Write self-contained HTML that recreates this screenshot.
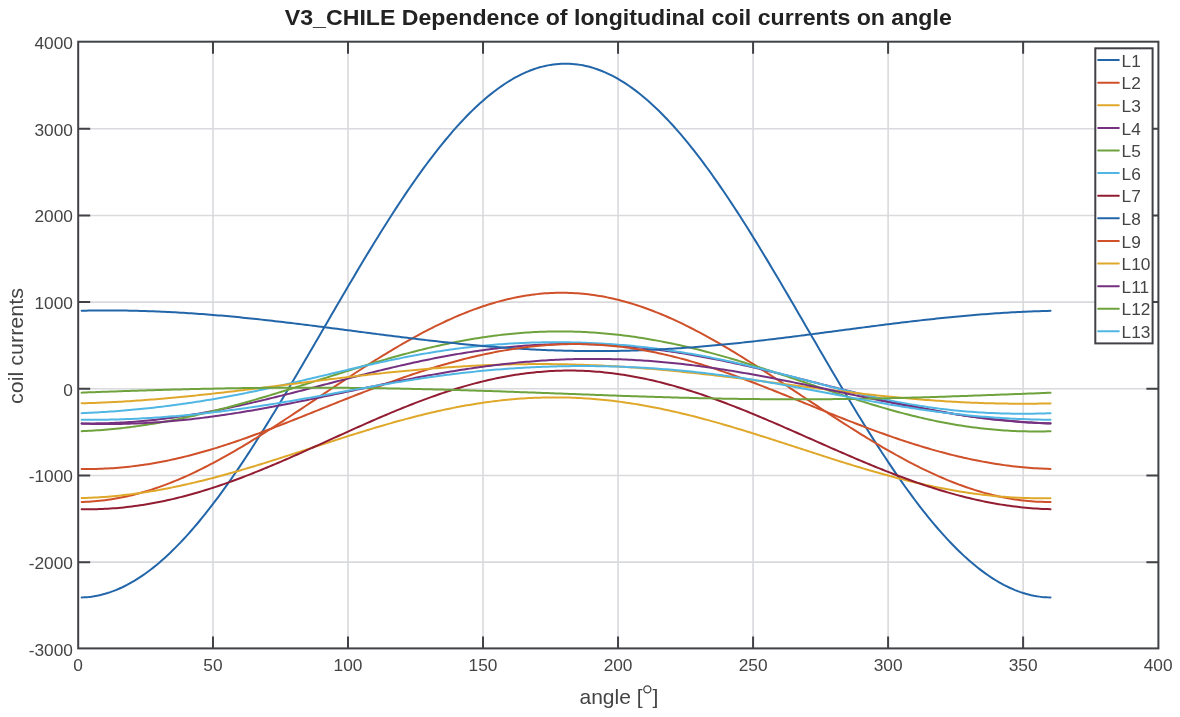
<!DOCTYPE html><html><head><meta charset="utf-8"><title>V3_CHILE</title><style>html,body{margin:0;padding:0;background:#fff;}svg{display:block;will-change:transform;}</style></head><body><svg width="1180" height="717" viewBox="0 0 1180 717">
<rect width="1180" height="717" fill="#ffffff"/>
<path d="M212.98 41.70V648.40M348.00 41.70V648.40M483.02 41.70V648.40M618.05 41.70V648.40M753.08 41.70V648.40M888.10 41.70V648.40M1023.12 41.70V648.40M78.20 562.13H1158.40M78.20 475.46H1158.40M78.20 388.79H1158.40M78.20 302.11H1158.40M78.20 215.44H1158.40M78.20 128.77H1158.40" stroke="#d9dadd" stroke-width="1.6" fill="none"/>
<polyline points="81.65,597.43 83.35,597.37 86.05,597.21 88.75,596.97 91.45,596.64 94.15,596.24 96.85,595.76 99.55,595.19 102.25,594.54 104.95,593.82 107.66,593.01 110.36,592.12 113.06,591.15 115.76,590.11 118.46,588.98 121.16,587.78 123.86,586.50 126.56,585.14 129.26,583.70 131.96,582.18 134.66,580.59 137.36,578.92 140.06,577.18 142.76,575.36 145.46,573.47 148.16,571.50 150.86,569.46 153.56,567.35 156.26,565.16 158.97,562.91 161.67,560.58 164.37,558.18 167.07,555.71 169.77,553.18 172.47,550.57 175.17,547.90 177.87,545.17 180.57,542.36 183.27,539.50 185.97,536.57 188.67,533.57 191.37,530.52 194.07,527.40 196.77,524.23 199.47,520.99 202.17,517.70 204.87,514.35 207.57,510.95 210.27,507.49 212.98,503.97 215.68,500.40 218.38,496.78 221.08,493.11 223.78,489.40 226.48,485.63 229.18,481.81 231.88,477.95 234.58,474.05 237.28,470.10 239.98,466.10 242.68,462.07 245.38,458.00 248.08,453.89 250.78,449.74 253.48,445.55 256.18,441.33 258.88,437.07 261.58,432.79 264.28,428.47 266.99,424.12 269.69,419.74 272.39,415.34 275.09,410.91 277.79,406.45 280.49,401.98 283.19,397.48 285.89,392.96 288.59,388.42 291.29,383.86 293.99,379.29 296.69,374.70 299.39,370.10 302.09,365.49 304.79,360.87 307.49,356.23 310.19,351.59 312.89,346.95 315.59,342.30 318.29,337.64 321.00,332.98 323.70,328.32 326.40,323.67 329.10,319.01 331.80,314.36 334.50,309.71 337.20,305.07 339.90,300.44 342.60,295.81 345.30,291.20 348.00,286.60 350.70,282.01 353.40,277.44 356.10,272.88 358.80,268.34 361.50,263.82 364.20,259.32 366.90,254.84 369.60,250.39 372.30,245.96 375.00,241.55 377.71,237.17 380.41,232.83 383.11,228.51 385.81,224.22 388.51,219.96 391.21,215.74 393.91,211.55 396.61,207.40 399.31,203.29 402.01,199.21 404.71,195.18 407.41,191.18 410.11,187.23 412.81,183.32 415.51,179.46 418.21,175.64 420.91,171.87 423.61,168.15 426.31,164.48 429.01,160.86 431.72,157.29 434.42,153.77 437.12,150.31 439.82,146.90 442.52,143.55 445.22,140.25 447.92,137.02 450.62,133.84 453.32,130.72 456.02,127.66 458.72,124.67 461.42,121.73 464.12,118.86 466.82,116.06 469.52,113.32 472.22,110.65 474.92,108.04 477.62,105.50 480.32,103.03 483.02,100.63 485.73,98.30 488.43,96.04 491.13,93.85 493.83,91.74 496.53,89.69 499.23,87.72 501.93,85.83 504.63,84.00 507.33,82.26 510.03,80.59 512.73,78.99 515.43,77.47 518.13,76.03 520.83,74.67 523.53,73.38 526.23,72.18 528.93,71.05 531.63,70.00 534.33,69.03 537.03,68.14 539.74,67.33 542.44,66.60 545.14,65.95 547.84,65.38 550.54,64.89 553.24,64.48 555.94,64.15 558.64,63.91 561.34,63.74 564.04,63.66 566.74,63.66 569.44,63.74 572.14,63.90 574.84,64.14 577.54,64.46 580.24,64.87 582.94,65.35 585.64,65.92 588.34,66.57 591.05,67.29 593.75,68.10 596.45,68.99 599.15,69.96 601.85,71.00 604.55,72.13 607.25,73.33 609.95,74.61 612.65,75.97 615.35,77.41 618.05,78.93 620.75,80.52 623.45,82.19 626.15,83.93 628.85,85.75 631.55,87.64 634.25,89.61 636.95,91.65 639.65,93.76 642.35,95.95 645.06,98.20 647.76,100.53 650.46,102.93 653.16,105.40 655.86,107.93 658.56,110.54 661.26,113.21 663.96,115.94 666.66,118.74 669.36,121.61 672.06,124.54 674.76,127.53 677.46,130.59 680.16,133.71 682.86,136.88 685.56,140.12 688.26,143.41 690.96,146.76 693.66,150.16 696.36,153.62 699.07,157.14 701.77,160.71 704.47,164.33 707.17,168.00 709.87,171.71 712.57,175.48 715.27,179.30 717.97,183.16 720.67,187.06 723.37,191.01 726.07,195.01 728.77,199.04 731.47,203.11 734.17,207.22 736.87,211.37 739.57,215.56 742.27,219.78 744.97,224.04 747.67,228.32 750.37,232.64 753.08,236.99 755.78,241.37 758.48,245.77 761.18,250.20 763.88,254.66 766.58,259.13 769.28,263.63 771.98,268.15 774.68,272.69 777.38,277.25 780.08,281.82 782.78,286.41 785.48,291.01 788.18,295.62 790.88,300.24 793.58,304.87 796.28,309.52 798.98,314.16 801.68,318.81 804.38,323.47 807.09,328.13 809.79,332.79 812.49,337.44 815.19,342.10 817.89,346.75 820.59,351.40 823.29,356.04 825.99,360.67 828.69,365.30 831.39,369.91 834.09,374.51 836.79,379.10 839.49,383.67 842.19,388.23 844.89,392.77 847.59,397.29 850.29,401.79 852.99,406.27 855.69,410.72 858.39,415.15 861.10,419.56 863.80,423.93 866.50,428.28 869.20,432.60 871.90,436.89 874.60,441.15 877.30,445.37 880.00,449.56 882.70,453.71 885.40,457.82 888.10,461.90 890.80,465.93 893.50,469.93 896.20,473.88 898.90,477.79 901.60,481.65 904.30,485.47 907.00,489.24 909.70,492.96 912.40,496.63 915.11,500.25 917.81,503.82 920.51,507.34 923.21,510.80 925.91,514.21 928.61,517.56 931.31,520.86 934.01,524.09 936.71,527.27 939.41,530.39 942.11,533.45 944.81,536.44 947.51,539.38 950.21,542.24 952.91,545.05 955.61,547.79 958.31,550.46 961.01,553.07 963.71,555.61 966.41,558.08 969.12,560.48 971.82,562.81 974.52,565.07 977.22,567.26 979.92,569.37 982.62,571.42 985.32,573.39 988.02,575.28 990.72,577.11 993.42,578.85 996.12,580.52 998.82,582.12 1001.52,583.64 1004.22,585.08 1006.92,586.44 1009.62,587.73 1012.32,588.93 1015.02,590.06 1017.72,591.11 1020.42,592.08 1023.12,592.97 1025.83,593.78 1028.53,594.51 1031.23,595.16 1033.93,595.73 1036.63,596.22 1039.33,596.63 1042.03,596.96 1044.73,597.20 1047.43,597.37 1050.54,597.45" fill="none" stroke="#2266A9" stroke-width="2.0" stroke-linejoin="round" stroke-linecap="round"/>
<polyline points="81.65,501.92 83.35,501.88 86.05,501.78 88.75,501.65 91.45,501.49 94.15,501.29 96.85,501.07 99.55,500.81 102.25,500.51 104.95,500.19 107.66,499.83 110.36,499.44 113.06,499.02 115.76,498.57 118.46,498.08 121.16,497.57 123.86,497.02 126.56,496.44 129.26,495.83 131.96,495.18 134.66,494.51 137.36,493.81 140.06,493.08 142.76,492.31 145.46,491.52 148.16,490.70 150.86,489.85 153.56,488.97 156.26,488.06 158.97,487.12 161.67,486.16 164.37,485.17 167.07,484.15 169.77,483.10 172.47,482.03 175.17,480.93 177.87,479.81 180.57,478.66 183.27,477.49 185.97,476.29 188.67,475.07 191.37,473.82 194.07,472.55 196.77,471.26 199.47,469.95 202.17,468.61 204.87,467.25 207.57,465.88 210.27,464.48 212.98,463.06 215.68,461.62 218.38,460.17 221.08,458.69 223.78,457.20 226.48,455.69 229.18,454.16 231.88,452.61 234.58,451.05 237.28,449.48 239.98,447.89 242.68,446.28 245.38,444.66 248.08,443.03 250.78,441.38 253.48,439.72 256.18,438.05 258.88,436.37 261.58,434.67 264.28,432.97 266.99,431.26 269.69,429.53 272.39,427.80 275.09,426.06 277.79,424.31 280.49,422.56 283.19,420.79 285.89,419.03 288.59,417.25 291.29,415.47 293.99,413.69 296.69,411.90 299.39,410.10 302.09,408.31 304.79,406.51 307.49,404.71 310.19,402.91 312.89,401.10 315.59,399.30 318.29,397.49 321.00,395.69 323.70,393.89 326.40,392.08 329.10,390.28 331.80,388.49 334.50,386.69 337.20,384.90 339.90,383.11 342.60,381.33 345.30,379.55 348.00,377.78 350.70,376.01 353.40,374.25 356.10,372.49 358.80,370.75 361.50,369.01 364.20,367.28 366.90,365.55 369.60,363.84 372.30,362.14 375.00,360.44 377.71,358.76 380.41,357.09 383.11,355.43 385.81,353.78 388.51,352.15 391.21,350.53 393.91,348.92 396.61,347.32 399.31,345.74 402.01,344.18 404.71,342.63 407.41,341.09 410.11,339.57 412.81,338.07 415.51,336.59 418.21,335.12 420.91,333.67 423.61,332.24 426.31,330.83 429.01,329.44 431.72,328.07 434.42,326.72 437.12,325.39 439.82,324.08 442.52,322.79 445.22,321.52 447.92,320.28 450.62,319.06 453.32,317.86 456.02,316.69 458.72,315.54 461.42,314.41 464.12,313.31 466.82,312.23 469.52,311.18 472.22,310.16 474.92,309.16 477.62,308.19 480.32,307.24 483.02,306.32 485.73,305.43 488.43,304.57 491.13,303.74 493.83,302.93 496.53,302.15 499.23,301.40 501.93,300.69 504.63,300.00 507.33,299.34 510.03,298.71 512.73,298.11 515.43,297.54 518.13,297.01 520.83,296.50 523.53,296.02 526.23,295.58 528.93,295.17 531.63,294.79 534.33,294.44 537.03,294.13 539.74,293.84 542.44,293.59 545.14,293.37 547.84,293.19 550.54,293.03 553.24,292.91 555.94,292.83 558.64,292.77 561.34,292.75 564.04,292.76 566.74,292.80 569.44,292.88 572.14,292.99 574.84,293.13 577.54,293.31 580.24,293.52 582.94,293.76 585.64,294.03 588.34,294.34 591.05,294.68 593.75,295.05 596.45,295.45 599.15,295.89 601.85,296.35 604.55,296.85 607.25,297.38 609.95,297.95 612.65,298.54 615.35,299.16 618.05,299.82 620.75,300.50 623.45,301.22 626.15,301.96 628.85,302.74 631.55,303.54 634.25,304.38 636.95,305.24 639.65,306.13 642.35,307.05 645.06,308.00 647.76,308.97 650.46,309.97 653.16,311.00 655.86,312.06 658.56,313.14 661.26,314.24 663.96,315.38 666.66,316.53 669.36,317.71 672.06,318.92 674.76,320.15 677.46,321.40 680.16,322.67 682.86,323.97 685.56,325.29 688.26,326.63 690.96,327.99 693.66,329.37 696.36,330.77 699.07,332.19 701.77,333.63 704.47,335.09 707.17,336.57 709.87,338.06 712.57,339.57 715.27,341.10 717.97,342.64 720.67,344.20 723.37,345.78 726.07,347.37 728.77,348.97 731.47,350.59 734.17,352.21 736.87,353.86 739.57,355.51 742.27,357.18 744.97,358.85 747.67,360.54 750.37,362.24 753.08,363.95 755.78,365.66 758.48,367.39 761.18,369.12 763.88,370.86 766.58,372.60 769.28,374.36 771.98,376.12 774.68,377.88 777.38,379.65 780.08,381.43 782.78,383.20 785.48,384.99 788.18,386.77 790.88,388.56 793.58,390.35 796.28,392.14 798.98,393.93 801.68,395.72 804.38,397.51 807.09,399.30 809.79,401.09 812.49,402.88 815.19,404.67 817.89,406.45 820.59,408.23 823.29,410.01 825.99,411.78 828.69,413.55 831.39,415.32 834.09,417.08 836.79,418.83 839.49,420.58 842.19,422.32 844.89,424.05 847.59,425.78 850.29,427.50 852.99,429.21 855.69,430.91 858.39,432.60 861.10,434.28 863.80,435.95 866.50,437.60 869.20,439.25 871.90,440.89 874.60,442.51 877.30,444.12 880.00,445.72 882.70,447.30 885.40,448.87 888.10,450.43 890.80,451.97 893.50,453.49 896.20,455.00 898.90,456.49 901.60,457.96 904.30,459.42 907.00,460.86 909.70,462.29 912.40,463.69 915.11,465.07 917.81,466.44 920.51,467.78 923.21,469.11 925.91,470.41 928.61,471.70 931.31,472.96 934.01,474.20 936.71,475.42 939.41,476.61 942.11,477.78 944.81,478.93 947.51,480.06 950.21,481.16 952.91,482.23 955.61,483.28 958.31,484.31 961.01,485.31 963.71,486.28 966.41,487.23 969.12,488.15 971.82,489.04 974.52,489.91 977.22,490.75 979.92,491.56 982.62,492.34 985.32,493.09 988.02,493.82 990.72,494.51 993.42,495.18 996.12,495.81 998.82,496.42 1001.52,496.99 1004.22,497.54 1006.92,498.05 1009.62,498.54 1012.32,498.99 1015.02,499.41 1017.72,499.80 1020.42,500.16 1023.12,500.48 1025.83,500.78 1028.53,501.04 1031.23,501.27 1033.93,501.47 1036.63,501.63 1039.33,501.77 1042.03,501.87 1044.73,501.93 1047.43,501.97 1050.54,501.97" fill="none" stroke="#CF5029" stroke-width="2.0" stroke-linejoin="round" stroke-linecap="round"/>
<polyline points="81.65,498.09 83.35,498.04 86.05,497.95 88.75,497.85 91.45,497.73 94.15,497.59 96.85,497.44 99.55,497.27 102.25,497.09 104.95,496.90 107.66,496.69 110.36,496.46 113.06,496.22 115.76,495.96 118.46,495.69 121.16,495.41 123.86,495.11 126.56,494.80 129.26,494.47 131.96,494.13 134.66,493.77 137.36,493.40 140.06,493.02 142.76,492.62 145.46,492.21 148.16,491.78 150.86,491.34 153.56,490.89 156.26,490.43 158.97,489.95 161.67,489.46 164.37,488.96 167.07,488.44 169.77,487.91 172.47,487.37 175.17,486.82 177.87,486.26 180.57,485.68 183.27,485.09 185.97,484.49 188.67,483.88 191.37,483.26 194.07,482.63 196.77,481.99 199.47,481.34 202.17,480.67 204.87,480.00 207.57,479.32 210.27,478.63 212.98,477.92 215.68,477.21 218.38,476.49 221.08,475.76 223.78,475.03 226.48,474.28 229.18,473.53 231.88,472.77 234.58,472.00 237.28,471.22 239.98,470.44 242.68,469.65 245.38,468.85 248.08,468.05 250.78,467.24 253.48,466.42 256.18,465.60 258.88,464.78 261.58,463.94 264.28,463.11 266.99,462.27 269.69,461.42 272.39,460.57 275.09,459.72 277.79,458.86 280.49,458.00 283.19,457.14 285.89,456.27 288.59,455.40 291.29,454.53 293.99,453.65 296.69,452.78 299.39,451.90 302.09,451.02 304.79,450.15 307.49,449.27 310.19,448.39 312.89,447.51 315.59,446.63 318.29,445.75 321.00,444.87 323.70,443.99 326.40,443.11 329.10,442.24 331.80,441.36 334.50,440.49 337.20,439.62 339.90,438.75 342.60,437.89 345.30,437.03 348.00,436.17 350.70,435.31 353.40,434.46 356.10,433.62 358.80,432.77 361.50,431.94 364.20,431.10 366.90,430.28 369.60,429.45 372.30,428.64 375.00,427.82 377.71,427.02 380.41,426.22 383.11,425.43 385.81,424.64 388.51,423.87 391.21,423.09 393.91,422.33 396.61,421.58 399.31,420.83 402.01,420.09 404.71,419.36 407.41,418.64 410.11,417.92 412.81,417.22 415.51,416.52 418.21,415.84 420.91,415.16 423.61,414.50 426.31,413.84 429.01,413.20 431.72,412.56 434.42,411.94 437.12,411.32 439.82,410.72 442.52,410.13 445.22,409.55 447.92,408.99 450.62,408.43 453.32,407.89 456.02,407.35 458.72,406.84 461.42,406.33 464.12,405.83 466.82,405.35 469.52,404.89 472.22,404.43 474.92,403.99 477.62,403.56 480.32,403.14 483.02,402.74 485.73,402.36 488.43,401.98 491.13,401.62 493.83,401.28 496.53,400.94 499.23,400.63 501.93,400.32 504.63,400.04 507.33,399.76 510.03,399.50 512.73,399.26 515.43,399.03 518.13,398.81 520.83,398.61 523.53,398.43 526.23,398.26 528.93,398.10 531.63,397.96 534.33,397.84 537.03,397.73 539.74,397.63 542.44,397.56 545.14,397.49 547.84,397.44 550.54,397.41 553.24,397.39 555.94,397.39 558.64,397.41 561.34,397.43 564.04,397.48 566.74,397.54 569.44,397.61 572.14,397.70 574.84,397.81 577.54,397.93 580.24,398.06 582.94,398.21 585.64,398.38 588.34,398.56 591.05,398.76 593.75,398.97 596.45,399.19 599.15,399.43 601.85,399.69 604.55,399.96 607.25,400.24 609.95,400.54 612.65,400.86 615.35,401.19 618.05,401.53 620.75,401.88 623.45,402.25 626.15,402.64 628.85,403.04 631.55,403.45 634.25,403.87 636.95,404.31 639.65,404.76 642.35,405.23 645.06,405.70 647.76,406.19 650.46,406.70 653.16,407.21 655.86,407.74 658.56,408.28 661.26,408.83 663.96,409.40 666.66,409.97 669.36,410.56 672.06,411.16 674.76,411.77 677.46,412.39 680.16,413.02 682.86,413.67 685.56,414.32 688.26,414.98 690.96,415.65 693.66,416.34 696.36,417.03 699.07,417.73 701.77,418.44 704.47,419.16 707.17,419.89 709.87,420.63 712.57,421.37 715.27,422.13 717.97,422.89 720.67,423.66 723.37,424.43 726.07,425.22 728.77,426.01 731.47,426.80 734.17,427.61 736.87,428.42 739.57,429.23 742.27,430.05 744.97,430.88 747.67,431.71 750.37,432.55 753.08,433.39 755.78,434.23 758.48,435.08 761.18,435.94 763.88,436.80 766.58,437.66 769.28,438.52 771.98,439.39 774.68,440.26 777.38,441.13 780.08,442.00 782.78,442.88 785.48,443.75 788.18,444.63 790.88,445.51 793.58,446.39 796.28,447.27 798.98,448.15 801.68,449.03 804.38,449.91 807.09,450.79 809.79,451.67 812.49,452.54 815.19,453.42 817.89,454.29 820.59,455.16 823.29,456.03 825.99,456.90 828.69,457.77 831.39,458.63 834.09,459.49 836.79,460.34 839.49,461.19 842.19,462.04 844.89,462.88 847.59,463.72 850.29,464.55 852.99,465.38 855.69,466.20 858.39,467.02 861.10,467.83 863.80,468.63 866.50,469.43 869.20,470.23 871.90,471.01 874.60,471.79 877.30,472.56 880.00,473.32 882.70,474.08 885.40,474.83 888.10,475.57 890.80,476.30 893.50,477.02 896.20,477.73 898.90,478.44 901.60,479.13 904.30,479.82 907.00,480.49 909.70,481.16 912.40,481.81 915.11,482.46 917.81,483.09 920.51,483.72 923.21,484.33 925.91,484.93 928.61,485.52 931.31,486.10 934.01,486.67 936.71,487.23 939.41,487.77 942.11,488.30 944.81,488.82 947.51,489.33 950.21,489.82 952.91,490.30 955.61,490.77 958.31,491.22 961.01,491.67 963.71,492.09 966.41,492.51 969.12,492.91 971.82,493.30 974.52,493.67 977.22,494.03 979.92,494.38 982.62,494.71 985.32,495.03 988.02,495.33 990.72,495.62 993.42,495.89 996.12,496.15 998.82,496.40 1001.52,496.63 1004.22,496.84 1006.92,497.04 1009.62,497.23 1012.32,497.40 1015.02,497.55 1017.72,497.69 1020.42,497.82 1023.12,497.93 1025.83,498.02 1028.53,498.10 1031.23,498.16 1033.93,498.21 1036.63,498.24 1039.33,498.26 1042.03,498.26 1044.73,498.25 1047.43,498.22 1050.54,498.17" fill="none" stroke="#E0A82A" stroke-width="2.0" stroke-linejoin="round" stroke-linecap="round"/>
<polyline points="81.65,423.36 83.35,423.38 86.05,423.41 88.75,423.42 91.45,423.42 94.15,423.40 96.85,423.37 99.55,423.33 102.25,423.28 104.95,423.22 107.66,423.14 110.36,423.05 113.06,422.95 115.76,422.83 118.46,422.71 121.16,422.57 123.86,422.42 126.56,422.25 129.26,422.07 131.96,421.89 134.66,421.69 137.36,421.47 140.06,421.25 142.76,421.01 145.46,420.76 148.16,420.50 150.86,420.23 153.56,419.95 156.26,419.65 158.97,419.34 161.67,419.03 164.37,418.70 167.07,418.36 169.77,418.00 172.47,417.64 175.17,417.27 177.87,416.88 180.57,416.49 183.27,416.08 185.97,415.67 188.67,415.24 191.37,414.81 194.07,414.36 196.77,413.91 199.47,413.44 202.17,412.97 204.87,412.48 207.57,411.99 210.27,411.49 212.98,410.98 215.68,410.46 218.38,409.93 221.08,409.40 223.78,408.85 226.48,408.30 229.18,407.74 231.88,407.18 234.58,406.60 237.28,406.02 239.98,405.43 242.68,404.83 245.38,404.23 248.08,403.62 250.78,403.01 253.48,402.39 256.18,401.76 258.88,401.13 261.58,400.49 264.28,399.85 266.99,399.20 269.69,398.55 272.39,397.89 275.09,397.23 277.79,396.56 280.49,395.89 283.19,395.22 285.89,394.54 288.59,393.86 291.29,393.18 293.99,392.49 296.69,391.80 299.39,391.11 302.09,390.42 304.79,389.72 307.49,389.02 310.19,388.33 312.89,387.63 315.59,386.93 318.29,386.22 321.00,385.52 323.70,384.82 326.40,384.12 329.10,383.41 331.80,382.71 334.50,382.01 337.20,381.31 339.90,380.61 342.60,379.91 345.30,379.21 348.00,378.51 350.70,377.82 353.40,377.13 356.10,376.44 358.80,375.75 361.50,375.07 364.20,374.38 366.90,373.71 369.60,373.03 372.30,372.36 375.00,371.69 377.71,371.03 380.41,370.37 383.11,369.71 385.81,369.06 388.51,368.41 391.21,367.77 393.91,367.14 396.61,366.51 399.31,365.88 402.01,365.26 404.71,364.65 407.41,364.04 410.11,363.44 412.81,362.84 415.51,362.25 418.21,361.67 420.91,361.10 423.61,360.53 426.31,359.97 429.01,359.42 431.72,358.87 434.42,358.33 437.12,357.80 439.82,357.28 442.52,356.77 445.22,356.26 447.92,355.77 450.62,355.28 453.32,354.80 456.02,354.33 458.72,353.87 461.42,353.42 464.12,352.98 466.82,352.54 469.52,352.12 472.22,351.71 474.92,351.30 477.62,350.91 480.32,350.52 483.02,350.15 485.73,349.78 488.43,349.43 491.13,349.09 493.83,348.76 496.53,348.43 499.23,348.12 501.93,347.82 504.63,347.53 507.33,347.25 510.03,346.98 512.73,346.73 515.43,346.48 518.13,346.25 520.83,346.02 523.53,345.81 526.23,345.61 528.93,345.42 531.63,345.24 534.33,345.07 537.03,344.92 539.74,344.77 542.44,344.64 545.14,344.52 547.84,344.41 550.54,344.31 553.24,344.23 555.94,344.15 558.64,344.09 561.34,344.04 564.04,344.00 566.74,343.97 569.44,343.96 572.14,343.95 574.84,343.96 577.54,343.98 580.24,344.01 582.94,344.05 585.64,344.11 588.34,344.17 591.05,344.25 593.75,344.34 596.45,344.44 599.15,344.55 601.85,344.68 604.55,344.81 607.25,344.96 609.95,345.11 612.65,345.28 615.35,345.46 618.05,345.65 620.75,345.85 623.45,346.07 626.15,346.29 628.85,346.53 631.55,346.77 634.25,347.03 636.95,347.30 639.65,347.57 642.35,347.86 645.06,348.16 647.76,348.47 650.46,348.79 653.16,349.12 655.86,349.46 658.56,349.80 661.26,350.16 663.96,350.53 666.66,350.91 669.36,351.30 672.06,351.70 674.76,352.10 677.46,352.52 680.16,352.94 682.86,353.38 685.56,353.82 688.26,354.27 690.96,354.73 693.66,355.20 696.36,355.68 699.07,356.16 701.77,356.66 704.47,357.16 707.17,357.67 709.87,358.18 712.57,358.71 715.27,359.24 717.97,359.78 720.67,360.32 723.37,360.87 726.07,361.43 728.77,362.00 731.47,362.57 734.17,363.15 736.87,363.74 739.57,364.33 742.27,364.92 744.97,365.52 747.67,366.13 750.37,366.74 753.08,367.36 755.78,367.98 758.48,368.61 761.18,369.24 763.88,369.88 766.58,370.52 769.28,371.16 771.98,371.81 774.68,372.46 777.38,373.12 780.08,373.78 782.78,374.44 785.48,375.10 788.18,375.77 790.88,376.44 793.58,377.11 796.28,377.79 798.98,378.46 801.68,379.14 804.38,379.82 807.09,380.50 809.79,381.19 812.49,381.87 815.19,382.55 817.89,383.24 820.59,383.92 823.29,384.61 825.99,385.29 828.69,385.98 831.39,386.66 834.09,387.34 836.79,388.03 839.49,388.71 842.19,389.39 844.89,390.07 847.59,390.74 850.29,391.42 852.99,392.09 855.69,392.76 858.39,393.43 861.10,394.10 863.80,394.76 866.50,395.42 869.20,396.08 871.90,396.73 874.60,397.38 877.30,398.02 880.00,398.67 882.70,399.30 885.40,399.94 888.10,400.56 890.80,401.19 893.50,401.81 896.20,402.42 898.90,403.03 901.60,403.63 904.30,404.22 907.00,404.81 909.70,405.40 912.40,405.97 915.11,406.54 917.81,407.11 920.51,407.67 923.21,408.22 925.91,408.76 928.61,409.29 931.31,409.82 934.01,410.34 936.71,410.85 939.41,411.36 942.11,411.85 944.81,412.34 947.51,412.82 950.21,413.29 952.91,413.75 955.61,414.20 958.31,414.64 961.01,415.07 963.71,415.50 966.41,415.91 969.12,416.31 971.82,416.71 974.52,417.09 977.22,417.47 979.92,417.83 982.62,418.18 985.32,418.52 988.02,418.86 990.72,419.18 993.42,419.49 996.12,419.78 998.82,420.07 1001.52,420.35 1004.22,420.61 1006.92,420.87 1009.62,421.11 1012.32,421.34 1015.02,421.56 1017.72,421.76 1020.42,421.96 1023.12,422.14 1025.83,422.31 1028.53,422.47 1031.23,422.62 1033.93,422.75 1036.63,422.87 1039.33,422.98 1042.03,423.08 1044.73,423.17 1047.43,423.24 1050.54,423.31" fill="none" stroke="#75317F" stroke-width="2.0" stroke-linejoin="round" stroke-linecap="round"/>
<polyline points="81.65,431.14 83.35,431.07 86.05,430.96 88.75,430.83 91.45,430.68 94.15,430.52 96.85,430.35 99.55,430.16 102.25,429.96 104.95,429.75 107.66,429.52 110.36,429.28 113.06,429.02 115.76,428.75 118.46,428.47 121.16,428.18 123.86,427.87 126.56,427.55 129.26,427.21 131.96,426.87 134.66,426.51 137.36,426.13 140.06,425.75 142.76,425.35 145.46,424.94 148.16,424.52 150.86,424.09 153.56,423.64 156.26,423.19 158.97,422.72 161.67,422.24 164.37,421.75 167.07,421.25 169.77,420.74 172.47,420.21 175.17,419.68 177.87,419.13 180.57,418.58 183.27,418.01 185.97,417.43 188.67,416.85 191.37,416.25 194.07,415.65 196.77,415.03 199.47,414.40 202.17,413.77 204.87,413.13 207.57,412.47 210.27,411.81 212.98,411.14 215.68,410.46 218.38,409.78 221.08,409.08 223.78,408.38 226.48,407.67 229.18,406.95 231.88,406.22 234.58,405.49 237.28,404.75 239.98,404.00 242.68,403.24 245.38,402.48 248.08,401.71 250.78,400.94 253.48,400.16 256.18,399.37 258.88,398.58 261.58,397.78 264.28,396.98 266.99,396.17 269.69,395.36 272.39,394.54 275.09,393.72 277.79,392.90 280.49,392.07 283.19,391.23 285.89,390.40 288.59,389.56 291.29,388.72 293.99,387.87 296.69,387.02 299.39,386.17 302.09,385.32 304.79,384.47 307.49,383.61 310.19,382.76 312.89,381.90 315.59,381.04 318.29,380.18 321.00,379.32 323.70,378.46 326.40,377.61 329.10,376.75 331.80,375.89 334.50,375.04 337.20,374.18 339.90,373.33 342.60,372.48 345.30,371.63 348.00,370.78 350.70,369.94 353.40,369.10 356.10,368.26 358.80,367.43 361.50,366.60 364.20,365.78 366.90,364.96 369.60,364.14 372.30,363.33 375.00,362.52 377.71,361.72 380.41,360.93 383.11,360.14 385.81,359.36 388.51,358.58 391.21,357.81 393.91,357.05 396.61,356.30 399.31,355.55 402.01,354.81 404.71,354.08 407.41,353.36 410.11,352.64 412.81,351.94 415.51,351.24 418.21,350.55 420.91,349.87 423.61,349.21 426.31,348.55 429.01,347.90 431.72,347.26 434.42,346.63 437.12,346.01 439.82,345.41 442.52,344.81 445.22,344.23 447.92,343.65 450.62,343.09 453.32,342.54 456.02,342.00 458.72,341.48 461.42,340.96 464.12,340.46 466.82,339.97 469.52,339.50 472.22,339.03 474.92,338.58 477.62,338.14 480.32,337.72 483.02,337.31 485.73,336.91 488.43,336.52 491.13,336.15 493.83,335.79 496.53,335.45 499.23,335.12 501.93,334.80 504.63,334.50 507.33,334.21 510.03,333.94 512.73,333.68 515.43,333.43 518.13,333.20 520.83,332.98 523.53,332.78 526.23,332.59 528.93,332.41 531.63,332.25 534.33,332.10 537.03,331.97 539.74,331.86 542.44,331.75 545.14,331.67 547.84,331.59 550.54,331.53 553.24,331.49 555.94,331.46 558.64,331.44 561.34,331.44 564.04,331.46 566.74,331.48 569.44,331.53 572.14,331.59 574.84,331.66 577.54,331.74 580.24,331.84 582.94,331.96 585.64,332.09 588.34,332.23 591.05,332.39 593.75,332.57 596.45,332.75 599.15,332.95 601.85,333.17 604.55,333.40 607.25,333.64 609.95,333.90 612.65,334.17 615.35,334.46 618.05,334.76 620.75,335.07 623.45,335.40 626.15,335.74 628.85,336.10 631.55,336.47 634.25,336.85 636.95,337.24 639.65,337.65 642.35,338.07 645.06,338.51 647.76,338.96 650.46,339.42 653.16,339.89 655.86,340.38 658.56,340.88 661.26,341.39 663.96,341.92 666.66,342.45 669.36,343.00 672.06,343.56 674.76,344.14 677.46,344.72 680.16,345.32 682.86,345.93 685.56,346.55 688.26,347.18 690.96,347.83 693.66,348.48 696.36,349.14 699.07,349.82 701.77,350.51 704.47,351.20 707.17,351.91 709.87,352.63 712.57,353.35 715.27,354.09 717.97,354.84 720.67,355.59 723.37,356.36 726.07,357.13 728.77,357.91 731.47,358.70 734.17,359.50 736.87,360.30 739.57,361.12 742.27,361.94 744.97,362.77 747.67,363.60 750.37,364.45 753.08,365.30 755.78,366.15 758.48,367.01 761.18,367.88 763.88,368.75 766.58,369.63 769.28,370.51 771.98,371.39 774.68,372.29 777.38,373.18 780.08,374.08 782.78,374.98 785.48,375.88 788.18,376.79 790.88,377.70 793.58,378.61 796.28,379.52 798.98,380.44 801.68,381.35 804.38,382.27 807.09,383.19 809.79,384.10 812.49,385.02 815.19,385.94 817.89,386.85 820.59,387.76 823.29,388.67 825.99,389.58 828.69,390.49 831.39,391.40 834.09,392.30 836.79,393.20 839.49,394.09 842.19,394.98 844.89,395.87 847.59,396.75 850.29,397.63 852.99,398.50 855.69,399.36 858.39,400.22 861.10,401.08 863.80,401.92 866.50,402.76 869.20,403.59 871.90,404.42 874.60,405.23 877.30,406.04 880.00,406.84 882.70,407.63 885.40,408.41 888.10,409.19 890.80,409.95 893.50,410.70 896.20,411.44 898.90,412.17 901.60,412.89 904.30,413.60 907.00,414.30 909.70,414.99 912.40,415.67 915.11,416.33 917.81,416.98 920.51,417.62 923.21,418.24 925.91,418.86 928.61,419.46 931.31,420.04 934.01,420.62 936.71,421.18 939.41,421.72 942.11,422.26 944.81,422.78 947.51,423.28 950.21,423.77 952.91,424.25 955.61,424.71 958.31,425.15 961.01,425.59 963.71,426.00 966.41,426.40 969.12,426.79 971.82,427.16 974.52,427.52 977.22,427.86 979.92,428.19 982.62,428.50 985.32,428.79 988.02,429.07 990.72,429.34 993.42,429.59 996.12,429.82 998.82,430.04 1001.52,430.24 1004.22,430.43 1006.92,430.60 1009.62,430.75 1012.32,430.90 1015.02,431.02 1017.72,431.13 1020.42,431.22 1023.12,431.30 1025.83,431.37 1028.53,431.41 1031.23,431.45 1033.93,431.47 1036.63,431.47 1039.33,431.46 1042.03,431.43 1044.73,431.39 1047.43,431.33 1050.54,431.25" fill="none" stroke="#6EA23C" stroke-width="2.0" stroke-linejoin="round" stroke-linecap="round"/>
<polyline points="81.65,413.14 83.35,413.07 86.05,412.96 88.75,412.84 91.45,412.71 94.15,412.58 96.85,412.43 99.55,412.28 102.25,412.12 104.95,411.95 107.66,411.78 110.36,411.60 113.06,411.41 115.76,411.21 118.46,411.00 121.16,410.79 123.86,410.57 126.56,410.34 129.26,410.10 131.96,409.86 134.66,409.61 137.36,409.35 140.06,409.09 142.76,408.82 145.46,408.54 148.16,408.25 150.86,407.96 153.56,407.65 156.26,407.34 158.97,407.03 161.67,406.71 164.37,406.37 167.07,406.04 169.77,405.69 172.47,405.34 175.17,404.98 177.87,404.61 180.57,404.24 183.27,403.86 185.97,403.47 188.67,403.07 191.37,402.67 194.07,402.26 196.77,401.84 199.47,401.42 202.17,400.98 204.87,400.54 207.57,400.10 210.27,399.64 212.98,399.18 215.68,398.72 218.38,398.24 221.08,397.76 223.78,397.27 226.48,396.78 229.18,396.28 231.88,395.77 234.58,395.25 237.28,394.73 239.98,394.20 242.68,393.67 245.38,393.13 248.08,392.58 250.78,392.03 253.48,391.47 256.18,390.91 258.88,390.34 261.58,389.76 264.28,389.19 266.99,388.60 269.69,388.01 272.39,387.42 275.09,386.82 277.79,386.21 280.49,385.61 283.19,384.99 285.89,384.38 288.59,383.76 291.29,383.14 293.99,382.51 296.69,381.88 299.39,381.25 302.09,380.62 304.79,379.98 307.49,379.34 310.19,378.70 312.89,378.06 315.59,377.42 318.29,376.78 321.00,376.14 323.70,375.49 326.40,374.85 329.10,374.20 331.80,373.56 334.50,372.92 337.20,372.27 339.90,371.63 342.60,371.00 345.30,370.36 348.00,369.72 350.70,369.09 353.40,368.46 356.10,367.83 358.80,367.21 361.50,366.59 364.20,365.97 366.90,365.36 369.60,364.75 372.30,364.15 375.00,363.55 377.71,362.95 380.41,362.36 383.11,361.78 385.81,361.20 388.51,360.63 391.21,360.07 393.91,359.51 396.61,358.95 399.31,358.41 402.01,357.87 404.71,357.34 407.41,356.82 410.11,356.30 412.81,355.79 415.51,355.29 418.21,354.80 420.91,354.31 423.61,353.84 426.31,353.37 429.01,352.91 431.72,352.46 434.42,352.02 437.12,351.59 439.82,351.17 442.52,350.76 445.22,350.35 447.92,349.96 450.62,349.58 453.32,349.20 456.02,348.83 458.72,348.48 461.42,348.13 464.12,347.80 466.82,347.47 469.52,347.16 472.22,346.85 474.92,346.55 477.62,346.27 480.32,345.99 483.02,345.72 485.73,345.47 488.43,345.22 491.13,344.98 493.83,344.76 496.53,344.54 499.23,344.33 501.93,344.14 504.63,343.95 507.33,343.77 510.03,343.61 512.73,343.45 515.43,343.30 518.13,343.16 520.83,343.03 523.53,342.92 526.23,342.81 528.93,342.71 531.63,342.62 534.33,342.54 537.03,342.47 539.74,342.41 542.44,342.36 545.14,342.31 547.84,342.28 550.54,342.26 553.24,342.24 555.94,342.24 558.64,342.24 561.34,342.26 564.04,342.28 566.74,342.31 569.44,342.35 572.14,342.40 574.84,342.46 577.54,342.53 580.24,342.61 582.94,342.70 585.64,342.79 588.34,342.90 591.05,343.02 593.75,343.14 596.45,343.27 599.15,343.41 601.85,343.57 604.55,343.73 607.25,343.90 609.95,344.08 612.65,344.26 615.35,344.46 618.05,344.67 620.75,344.89 623.45,345.11 626.15,345.35 628.85,345.59 631.55,345.85 634.25,346.11 636.95,346.38 639.65,346.66 642.35,346.96 645.06,347.26 647.76,347.57 650.46,347.89 653.16,348.22 655.86,348.56 658.56,348.91 661.26,349.26 663.96,349.63 666.66,350.01 669.36,350.40 672.06,350.79 674.76,351.20 677.46,351.62 680.16,352.04 682.86,352.48 685.56,352.92 688.26,353.37 690.96,353.84 693.66,354.31 696.36,354.79 699.07,355.28 701.77,355.78 704.47,356.29 707.17,356.80 709.87,357.33 712.57,357.86 715.27,358.41 717.97,358.96 720.67,359.52 723.37,360.08 726.07,360.66 728.77,361.24 731.47,361.83 734.17,362.43 736.87,363.04 739.57,363.65 742.27,364.27 744.97,364.90 747.67,365.53 750.37,366.17 753.08,366.82 755.78,367.47 758.48,368.12 761.18,368.79 763.88,369.45 766.58,370.13 769.28,370.80 771.98,371.48 774.68,372.17 777.38,372.85 780.08,373.55 782.78,374.24 785.48,374.94 788.18,375.64 790.88,376.34 793.58,377.04 796.28,377.74 798.98,378.45 801.68,379.16 804.38,379.86 807.09,380.57 809.79,381.28 812.49,381.98 815.19,382.68 817.89,383.39 820.59,384.09 823.29,384.79 825.99,385.49 828.69,386.18 831.39,386.87 834.09,387.56 836.79,388.24 839.49,388.92 842.19,389.60 844.89,390.27 847.59,390.93 850.29,391.59 852.99,392.25 855.69,392.90 858.39,393.54 861.10,394.17 863.80,394.80 866.50,395.42 869.20,396.03 871.90,396.64 874.60,397.24 877.30,397.83 880.00,398.41 882.70,398.98 885.40,399.54 888.10,400.10 890.80,400.64 893.50,401.17 896.20,401.70 898.90,402.21 901.60,402.72 904.30,403.21 907.00,403.69 909.70,404.16 912.40,404.63 915.11,405.08 917.81,405.52 920.51,405.94 923.21,406.36 925.91,406.77 928.61,407.16 931.31,407.54 934.01,407.91 936.71,408.27 939.41,408.62 942.11,408.95 944.81,409.28 947.51,409.59 950.21,409.89 952.91,410.18 955.61,410.46 958.31,410.72 961.01,410.97 963.71,411.22 966.41,411.45 969.12,411.66 971.82,411.87 974.52,412.07 977.22,412.25 979.92,412.42 982.62,412.59 985.32,412.74 988.02,412.88 990.72,413.00 993.42,413.12 996.12,413.23 998.82,413.32 1001.52,413.41 1004.22,413.48 1006.92,413.55 1009.62,413.60 1012.32,413.65 1015.02,413.68 1017.72,413.71 1020.42,413.72 1023.12,413.73 1025.83,413.72 1028.53,413.71 1031.23,413.68 1033.93,413.65 1036.63,413.61 1039.33,413.56 1042.03,413.50 1044.73,413.43 1047.43,413.35 1050.54,413.25" fill="none" stroke="#50B6E4" stroke-width="2.0" stroke-linejoin="round" stroke-linecap="round"/>
<polyline points="81.65,509.26 83.35,509.29 86.05,509.31 88.75,509.30 91.45,509.28 94.15,509.24 96.85,509.17 99.55,509.09 102.25,508.98 104.95,508.86 107.66,508.71 110.36,508.54 113.06,508.35 115.76,508.14 118.46,507.91 121.16,507.66 123.86,507.39 126.56,507.10 129.26,506.79 131.96,506.46 134.66,506.11 137.36,505.74 140.06,505.34 142.76,504.93 145.46,504.50 148.16,504.05 150.86,503.58 153.56,503.09 156.26,502.58 158.97,502.05 161.67,501.50 164.37,500.93 167.07,500.35 169.77,499.75 172.47,499.12 175.17,498.48 177.87,497.83 180.57,497.15 183.27,496.46 185.97,495.74 188.67,495.02 191.37,494.27 194.07,493.51 196.77,492.73 199.47,491.94 202.17,491.12 204.87,490.30 207.57,489.45 210.27,488.60 212.98,487.72 215.68,486.84 218.38,485.93 221.08,485.02 223.78,484.08 226.48,483.14 229.18,482.18 231.88,481.21 234.58,480.22 237.28,479.23 239.98,478.22 242.68,477.20 245.38,476.16 248.08,475.12 250.78,474.06 253.48,473.00 256.18,471.92 258.88,470.83 261.58,469.73 264.28,468.63 266.99,467.51 269.69,466.39 272.39,465.26 275.09,464.11 277.79,462.97 280.49,461.81 283.19,460.65 285.89,459.48 288.59,458.30 291.29,457.12 293.99,455.93 296.69,454.74 299.39,453.54 302.09,452.34 304.79,451.13 307.49,449.92 310.19,448.71 312.89,447.49 315.59,446.28 318.29,445.06 321.00,443.83 323.70,442.61 326.40,441.38 329.10,440.16 331.80,438.93 334.50,437.71 337.20,436.48 339.90,435.26 342.60,434.04 345.30,432.81 348.00,431.59 350.70,430.38 353.40,429.16 356.10,427.95 358.80,426.75 361.50,425.54 364.20,424.35 366.90,423.15 369.60,421.96 372.30,420.78 375.00,419.60 377.71,418.43 380.41,417.27 383.11,416.11 385.81,414.96 388.51,413.82 391.21,412.69 393.91,411.56 396.61,410.44 399.31,409.34 402.01,408.24 404.71,407.15 407.41,406.07 410.11,405.01 412.81,403.95 415.51,402.91 418.21,401.87 420.91,400.85 423.61,399.84 426.31,398.85 429.01,397.86 431.72,396.89 434.42,395.94 437.12,394.99 439.82,394.06 442.52,393.15 445.22,392.25 447.92,391.37 450.62,390.50 453.32,389.64 456.02,388.81 458.72,387.98 461.42,387.18 464.12,386.39 466.82,385.62 469.52,384.86 472.22,384.12 474.92,383.40 477.62,382.70 480.32,382.02 483.02,381.35 485.73,380.70 488.43,380.07 491.13,379.46 493.83,378.87 496.53,378.30 499.23,377.75 501.93,377.21 504.63,376.70 507.33,376.21 510.03,375.73 512.73,375.28 515.43,374.85 518.13,374.43 520.83,374.04 523.53,373.67 526.23,373.32 528.93,372.99 531.63,372.68 534.33,372.39 537.03,372.12 539.74,371.88 542.44,371.65 545.14,371.45 547.84,371.26 550.54,371.10 553.24,370.96 555.94,370.85 558.64,370.75 561.34,370.67 564.04,370.62 566.74,370.59 569.44,370.58 572.14,370.59 574.84,370.62 577.54,370.67 580.24,370.75 582.94,370.85 585.64,370.96 588.34,371.10 591.05,371.26 593.75,371.45 596.45,371.65 599.15,371.87 601.85,372.12 604.55,372.38 607.25,372.67 609.95,372.98 612.65,373.30 615.35,373.65 618.05,374.02 620.75,374.41 623.45,374.82 626.15,375.25 628.85,375.69 631.55,376.16 634.25,376.65 636.95,377.15 639.65,377.68 642.35,378.22 645.06,378.79 647.76,379.37 650.46,379.97 653.16,380.59 655.86,381.22 658.56,381.88 661.26,382.55 663.96,383.24 666.66,383.94 669.36,384.67 672.06,385.41 674.76,386.16 677.46,386.93 680.16,387.72 682.86,388.53 685.56,389.34 688.26,390.18 690.96,391.03 693.66,391.89 696.36,392.77 699.07,393.66 701.77,394.57 704.47,395.49 707.17,396.42 709.87,397.36 712.57,398.32 715.27,399.29 717.97,400.27 720.67,401.27 723.37,402.27 726.07,403.29 728.77,404.32 731.47,405.35 734.17,406.40 736.87,407.46 739.57,408.53 742.27,409.60 744.97,410.69 747.67,411.78 750.37,412.88 753.08,413.99 755.78,415.11 758.48,416.24 761.18,417.37 763.88,418.50 766.58,419.65 769.28,420.80 771.98,421.95 774.68,423.11 777.38,424.28 780.08,425.45 782.78,426.62 785.48,427.80 788.18,428.98 790.88,430.17 793.58,431.35 796.28,432.54 798.98,433.73 801.68,434.92 804.38,436.12 807.09,437.31 809.79,438.51 812.49,439.70 815.19,440.90 817.89,442.10 820.59,443.29 823.29,444.48 825.99,445.67 828.69,446.86 831.39,448.05 834.09,449.24 836.79,450.42 839.49,451.60 842.19,452.77 844.89,453.94 847.59,455.11 850.29,456.27 852.99,457.43 855.69,458.58 858.39,459.73 861.10,460.87 863.80,462.00 866.50,463.13 869.20,464.25 871.90,465.37 874.60,466.47 877.30,467.57 880.00,468.66 882.70,469.74 885.40,470.81 888.10,471.88 890.80,472.93 893.50,473.97 896.20,475.01 898.90,476.03 901.60,477.04 904.30,478.05 907.00,479.04 909.70,480.02 912.40,480.98 915.11,481.94 917.81,482.88 920.51,483.81 923.21,484.73 925.91,485.63 928.61,486.52 931.31,487.40 934.01,488.26 936.71,489.11 939.41,489.94 942.11,490.76 944.81,491.57 947.51,492.36 950.21,493.13 952.91,493.89 955.61,494.63 958.31,495.36 961.01,496.06 963.71,496.76 966.41,497.43 969.12,498.09 971.82,498.74 974.52,499.36 977.22,499.97 979.92,500.56 982.62,501.13 985.32,501.68 988.02,502.22 990.72,502.73 993.42,503.23 996.12,503.71 998.82,504.17 1001.52,504.62 1004.22,505.04 1006.92,505.44 1009.62,505.83 1012.32,506.19 1015.02,506.53 1017.72,506.86 1020.42,507.16 1023.12,507.45 1025.83,507.72 1028.53,507.96 1031.23,508.18 1033.93,508.39 1036.63,508.57 1039.33,508.74 1042.03,508.88 1044.73,509.00 1047.43,509.10 1050.54,509.20" fill="none" stroke="#921C31" stroke-width="2.0" stroke-linejoin="round" stroke-linecap="round"/>
<polyline points="81.65,310.73 83.35,310.70 86.05,310.65 88.75,310.60 91.45,310.56 94.15,310.52 96.85,310.49 99.55,310.47 102.25,310.46 104.95,310.45 107.66,310.44 110.36,310.45 113.06,310.45 115.76,310.47 118.46,310.49 121.16,310.52 123.86,310.55 126.56,310.59 129.26,310.64 131.96,310.69 134.66,310.75 137.36,310.81 140.06,310.88 142.76,310.96 145.46,311.04 148.16,311.13 150.86,311.22 153.56,311.32 156.26,311.42 158.97,311.54 161.67,311.65 164.37,311.78 167.07,311.91 169.77,312.04 172.47,312.18 175.17,312.33 177.87,312.48 180.57,312.64 183.27,312.80 185.97,312.97 188.67,313.14 191.37,313.32 194.07,313.50 196.77,313.69 199.47,313.89 202.17,314.09 204.87,314.29 207.57,314.50 210.27,314.71 212.98,314.93 215.68,315.16 218.38,315.38 221.08,315.62 223.78,315.86 226.48,316.10 229.18,316.34 231.88,316.60 234.58,316.85 237.28,317.11 239.98,317.37 242.68,317.64 245.38,317.91 248.08,318.19 250.78,318.47 253.48,318.75 256.18,319.04 258.88,319.33 261.58,319.62 264.28,319.92 266.99,320.22 269.69,320.52 272.39,320.83 275.09,321.14 277.79,321.45 280.49,321.76 283.19,322.08 285.89,322.40 288.59,322.72 291.29,323.05 293.99,323.38 296.69,323.71 299.39,324.04 302.09,324.37 304.79,324.71 307.49,325.04 310.19,325.38 312.89,325.72 315.59,326.07 318.29,326.41 321.00,326.76 323.70,327.10 326.40,327.45 329.10,327.80 331.80,328.15 334.50,328.50 337.20,328.85 339.90,329.20 342.60,329.55 345.30,329.90 348.00,330.26 350.70,330.61 353.40,330.96 356.10,331.31 358.80,331.67 361.50,332.02 364.20,332.37 366.90,332.72 369.60,333.07 372.30,333.42 375.00,333.77 377.71,334.12 380.41,334.47 383.11,334.81 385.81,335.16 388.51,335.50 391.21,335.84 393.91,336.19 396.61,336.52 399.31,336.86 402.01,337.20 404.71,337.53 407.41,337.86 410.11,338.19 412.81,338.52 415.51,338.85 418.21,339.17 420.91,339.49 423.61,339.81 426.31,340.12 429.01,340.43 431.72,340.74 434.42,341.05 437.12,341.35 439.82,341.65 442.52,341.95 445.22,342.24 447.92,342.53 450.62,342.82 453.32,343.10 456.02,343.38 458.72,343.65 461.42,343.93 464.12,344.19 466.82,344.46 469.52,344.72 472.22,344.97 474.92,345.22 477.62,345.47 480.32,345.71 483.02,345.95 485.73,346.18 488.43,346.41 491.13,346.63 493.83,346.85 496.53,347.07 499.23,347.28 501.93,347.48 504.63,347.68 507.33,347.87 510.03,348.06 512.73,348.25 515.43,348.42 518.13,348.60 520.83,348.77 523.53,348.93 526.23,349.08 528.93,349.24 531.63,349.38 534.33,349.52 537.03,349.66 539.74,349.78 542.44,349.91 545.14,350.02 547.84,350.14 550.54,350.24 553.24,350.34 555.94,350.43 558.64,350.52 561.34,350.60 564.04,350.68 566.74,350.75 569.44,350.81 572.14,350.87 574.84,350.92 577.54,350.97 580.24,351.00 582.94,351.04 585.64,351.06 588.34,351.08 591.05,351.10 593.75,351.11 596.45,351.11 599.15,351.10 601.85,351.09 604.55,351.08 607.25,351.05 609.95,351.03 612.65,350.99 615.35,350.95 618.05,350.90 620.75,350.85 623.45,350.79 626.15,350.72 628.85,350.65 631.55,350.57 634.25,350.49 636.95,350.40 639.65,350.30 642.35,350.20 645.06,350.09 647.76,349.98 650.46,349.86 653.16,349.73 655.86,349.60 658.56,349.46 661.26,349.32 663.96,349.17 666.66,349.01 669.36,348.85 672.06,348.69 674.76,348.52 677.46,348.34 680.16,348.16 682.86,347.97 685.56,347.78 688.26,347.58 690.96,347.38 693.66,347.17 696.36,346.96 699.07,346.74 701.77,346.51 704.47,346.29 707.17,346.05 709.87,345.82 712.57,345.57 715.27,345.33 717.97,345.08 720.67,344.82 723.37,344.56 726.07,344.30 728.77,344.03 731.47,343.75 734.17,343.48 736.87,343.20 739.57,342.91 742.27,342.62 744.97,342.33 747.67,342.04 750.37,341.74 753.08,341.44 755.78,341.13 758.48,340.82 761.18,340.51 763.88,340.20 766.58,339.88 769.28,339.56 771.98,339.23 774.68,338.91 777.38,338.58 780.08,338.25 782.78,337.92 785.48,337.58 788.18,337.24 790.88,336.90 793.58,336.56 796.28,336.22 798.98,335.87 801.68,335.53 804.38,335.18 807.09,334.83 809.79,334.48 812.49,334.13 815.19,333.78 817.89,333.42 820.59,333.07 823.29,332.71 825.99,332.36 828.69,332.00 831.39,331.64 834.09,331.29 836.79,330.93 839.49,330.57 842.19,330.22 844.89,329.86 847.59,329.50 850.29,329.15 852.99,328.79 855.69,328.44 858.39,328.08 861.10,327.73 863.80,327.38 866.50,327.02 869.20,326.67 871.90,326.32 874.60,325.98 877.30,325.63 880.00,325.29 882.70,324.94 885.40,324.60 888.10,324.26 890.80,323.93 893.50,323.59 896.20,323.26 898.90,322.93 901.60,322.60 904.30,322.27 907.00,321.95 909.70,321.63 912.40,321.31 915.11,321.00 917.81,320.69 920.51,320.38 923.21,320.08 925.91,319.77 928.61,319.48 931.31,319.18 934.01,318.89 936.71,318.60 939.41,318.32 942.11,318.04 944.81,317.76 947.51,317.49 950.21,317.22 952.91,316.96 955.61,316.70 958.31,316.45 961.01,316.19 963.71,315.95 966.41,315.71 969.12,315.47 971.82,315.24 974.52,315.01 977.22,314.79 979.92,314.57 982.62,314.36 985.32,314.15 988.02,313.95 990.72,313.75 993.42,313.56 996.12,313.37 998.82,313.19 1001.52,313.01 1004.22,312.84 1006.92,312.68 1009.62,312.52 1012.32,312.37 1015.02,312.22 1017.72,312.08 1020.42,311.94 1023.12,311.81 1025.83,311.68 1028.53,311.56 1031.23,311.45 1033.93,311.34 1036.63,311.24 1039.33,311.14 1042.03,311.06 1044.73,310.97 1047.43,310.89 1050.54,310.81" fill="none" stroke="#2266A9" stroke-width="2.0" stroke-linejoin="round" stroke-linecap="round"/>
<polyline points="81.65,468.96 83.35,468.98 86.05,469.00 88.75,469.00 91.45,468.98 94.15,468.94 96.85,468.88 99.55,468.81 102.25,468.71 104.95,468.59 107.66,468.46 110.36,468.30 113.06,468.13 115.76,467.94 118.46,467.73 121.16,467.49 123.86,467.24 126.56,466.97 129.26,466.68 131.96,466.38 134.66,466.05 137.36,465.70 140.06,465.34 142.76,464.96 145.46,464.56 148.16,464.14 150.86,463.70 153.56,463.24 156.26,462.76 158.97,462.27 161.67,461.76 164.37,461.23 167.07,460.69 169.77,460.12 172.47,459.54 175.17,458.94 177.87,458.33 180.57,457.70 183.27,457.05 185.97,456.39 188.67,455.71 191.37,455.01 194.07,454.30 196.77,453.57 199.47,452.83 202.17,452.08 204.87,451.31 207.57,450.52 210.27,449.72 212.98,448.91 215.68,448.09 218.38,447.25 221.08,446.40 223.78,445.53 226.48,444.66 229.18,443.77 231.88,442.87 234.58,441.96 237.28,441.04 239.98,440.11 242.68,439.16 245.38,438.21 248.08,437.25 250.78,436.28 253.48,435.30 256.18,434.31 258.88,433.32 261.58,432.31 264.28,431.30 266.99,430.29 269.69,429.26 272.39,428.23 275.09,427.19 277.79,426.15 280.49,425.10 283.19,424.05 285.89,422.99 288.59,421.93 291.29,420.87 293.99,419.80 296.69,418.73 299.39,417.65 302.09,416.57 304.79,415.50 307.49,414.41 310.19,413.33 312.89,412.25 315.59,411.17 318.29,410.08 321.00,409.00 323.70,407.91 326.40,406.83 329.10,405.75 331.80,404.67 334.50,403.59 337.20,402.51 339.90,401.44 342.60,400.36 345.30,399.29 348.00,398.23 350.70,397.16 353.40,396.11 356.10,395.05 358.80,394.00 361.50,392.95 364.20,391.91 366.90,390.88 369.60,389.84 372.30,388.82 375.00,387.80 377.71,386.79 380.41,385.78 383.11,384.78 385.81,383.79 388.51,382.80 391.21,381.83 393.91,380.86 396.61,379.89 399.31,378.94 402.01,377.99 404.71,377.06 407.41,376.13 410.11,375.21 412.81,374.30 415.51,373.40 418.21,372.51 420.91,371.63 423.61,370.76 426.31,369.90 429.01,369.05 431.72,368.22 434.42,367.39 437.12,366.57 439.82,365.77 442.52,364.98 445.22,364.19 447.92,363.43 450.62,362.67 453.32,361.92 456.02,361.19 458.72,360.47 461.42,359.77 464.12,359.07 466.82,358.40 469.52,357.73 472.22,357.08 474.92,356.44 477.62,355.81 480.32,355.20 483.02,354.61 485.73,354.03 488.43,353.46 491.13,352.91 493.83,352.37 496.53,351.85 499.23,351.35 501.93,350.86 504.63,350.38 507.33,349.92 510.03,349.48 512.73,349.05 515.43,348.65 518.13,348.25 520.83,347.88 523.53,347.52 526.23,347.17 528.93,346.85 531.63,346.54 534.33,346.25 537.03,345.98 539.74,345.72 542.44,345.49 545.14,345.27 547.84,345.07 550.54,344.88 553.24,344.72 555.94,344.57 558.64,344.44 561.34,344.34 564.04,344.24 566.74,344.17 569.44,344.12 572.14,344.09 574.84,344.07 577.54,344.08 580.24,344.10 582.94,344.14 585.64,344.21 588.34,344.29 591.05,344.39 593.75,344.51 596.45,344.65 599.15,344.81 601.85,344.99 604.55,345.19 607.25,345.40 609.95,345.64 612.65,345.90 615.35,346.17 618.05,346.47 620.75,346.78 623.45,347.12 626.15,347.47 628.85,347.84 631.55,348.23 634.25,348.64 636.95,349.07 639.65,349.52 642.35,349.98 645.06,350.46 647.76,350.97 650.46,351.49 653.16,352.03 655.86,352.58 658.56,353.16 661.26,353.75 663.96,354.36 666.66,354.98 669.36,355.63 672.06,356.29 674.76,356.96 677.46,357.65 680.16,358.36 682.86,359.09 685.56,359.83 688.26,360.58 690.96,361.35 693.66,362.13 696.36,362.93 699.07,363.75 701.77,364.57 704.47,365.42 707.17,366.27 709.87,367.14 712.57,368.02 715.27,368.91 717.97,369.81 720.67,370.73 723.37,371.65 726.07,372.59 728.77,373.54 731.47,374.50 734.17,375.47 736.87,376.45 739.57,377.44 742.27,378.43 744.97,379.44 747.67,380.45 750.37,381.47 753.08,382.50 755.78,383.54 758.48,384.58 761.18,385.63 763.88,386.68 766.58,387.74 769.28,388.81 771.98,389.88 774.68,390.95 777.38,392.03 780.08,393.11 782.78,394.20 785.48,395.29 788.18,396.38 790.88,397.47 793.58,398.57 796.28,399.67 798.98,400.76 801.68,401.86 804.38,402.96 807.09,404.06 809.79,405.16 812.49,406.26 815.19,407.36 817.89,408.45 820.59,409.55 823.29,410.64 825.99,411.73 828.69,412.82 831.39,413.90 834.09,414.98 836.79,416.06 839.49,417.14 842.19,418.21 844.89,419.27 847.59,420.33 850.29,421.39 852.99,422.44 855.69,423.48 858.39,424.52 861.10,425.55 863.80,426.58 866.50,427.59 869.20,428.61 871.90,429.61 874.60,430.61 877.30,431.59 880.00,432.57 882.70,433.55 885.40,434.51 888.10,435.46 890.80,436.41 893.50,437.35 896.20,438.27 898.90,439.19 901.60,440.10 904.30,440.99 907.00,441.88 909.70,442.75 912.40,443.62 915.11,444.47 917.81,445.31 920.51,446.14 923.21,446.96 925.91,447.77 928.61,448.56 931.31,449.34 934.01,450.11 936.71,450.87 939.41,451.61 942.11,452.34 944.81,453.06 947.51,453.77 950.21,454.46 952.91,455.13 955.61,455.79 958.31,456.44 961.01,457.08 963.71,457.70 966.41,458.30 969.12,458.89 971.82,459.46 974.52,460.02 977.22,460.57 979.92,461.09 982.62,461.61 985.32,462.10 988.02,462.58 990.72,463.05 993.42,463.50 996.12,463.93 998.82,464.34 1001.52,464.74 1004.22,465.12 1006.92,465.49 1009.62,465.83 1012.32,466.16 1015.02,466.48 1017.72,466.77 1020.42,467.05 1023.12,467.31 1025.83,467.55 1028.53,467.77 1031.23,467.97 1033.93,468.16 1036.63,468.33 1039.33,468.48 1042.03,468.61 1044.73,468.72 1047.43,468.82 1050.54,468.90" fill="none" stroke="#CF5029" stroke-width="2.0" stroke-linejoin="round" stroke-linecap="round"/>
<polyline points="81.65,403.30 83.35,403.26 86.05,403.18 88.75,403.10 91.45,403.01 94.15,402.91 96.85,402.81 99.55,402.70 102.25,402.59 104.95,402.47 107.66,402.34 110.36,402.21 113.06,402.08 115.76,401.94 118.46,401.79 121.16,401.64 123.86,401.48 126.56,401.31 129.26,401.15 131.96,400.97 134.66,400.79 137.36,400.61 140.06,400.42 142.76,400.22 145.46,400.02 148.16,399.82 150.86,399.61 153.56,399.40 156.26,399.18 158.97,398.95 161.67,398.73 164.37,398.49 167.07,398.26 169.77,398.01 172.47,397.77 175.17,397.52 177.87,397.27 180.57,397.01 183.27,396.75 185.97,396.48 188.67,396.21 191.37,395.94 194.07,395.66 196.77,395.38 199.47,395.10 202.17,394.81 204.87,394.52 207.57,394.23 210.27,393.93 212.98,393.63 215.68,393.33 218.38,393.03 221.08,392.72 223.78,392.41 226.48,392.10 229.18,391.78 231.88,391.47 234.58,391.15 237.28,390.83 239.98,390.50 242.68,390.18 245.38,389.85 248.08,389.52 250.78,389.19 253.48,388.86 256.18,388.52 258.88,388.19 261.58,387.85 264.28,387.52 266.99,387.18 269.69,386.84 272.39,386.50 275.09,386.16 277.79,385.82 280.49,385.48 283.19,385.14 285.89,384.79 288.59,384.45 291.29,384.11 293.99,383.77 296.69,383.42 299.39,383.08 302.09,382.74 304.79,382.40 307.49,382.06 310.19,381.72 312.89,381.38 315.59,381.04 318.29,380.70 321.00,380.37 323.70,380.03 326.40,379.70 329.10,379.36 331.80,379.03 334.50,378.70 337.20,378.37 339.90,378.04 342.60,377.72 345.30,377.40 348.00,377.07 350.70,376.76 353.40,376.44 356.10,376.12 358.80,375.81 361.50,375.50 364.20,375.19 366.90,374.89 369.60,374.59 372.30,374.29 375.00,373.99 377.71,373.70 380.41,373.41 383.11,373.12 385.81,372.83 388.51,372.55 391.21,372.28 393.91,372.00 396.61,371.73 399.31,371.46 402.01,371.20 404.71,370.94 407.41,370.68 410.11,370.43 412.81,370.18 415.51,369.94 418.21,369.70 420.91,369.47 423.61,369.23 426.31,369.01 429.01,368.78 431.72,368.57 434.42,368.35 437.12,368.14 439.82,367.94 442.52,367.74 445.22,367.54 447.92,367.35 450.62,367.17 453.32,366.99 456.02,366.81 458.72,366.64 461.42,366.48 464.12,366.32 466.82,366.16 469.52,366.01 472.22,365.87 474.92,365.73 477.62,365.59 480.32,365.47 483.02,365.34 485.73,365.23 488.43,365.11 491.13,365.01 493.83,364.91 496.53,364.81 499.23,364.72 501.93,364.64 504.63,364.56 507.33,364.49 510.03,364.42 512.73,364.36 515.43,364.30 518.13,364.25 520.83,364.21 523.53,364.17 526.23,364.14 528.93,364.11 531.63,364.09 534.33,364.08 537.03,364.07 539.74,364.07 542.44,364.07 545.14,364.08 547.84,364.09 550.54,364.11 553.24,364.14 555.94,364.17 558.64,364.21 561.34,364.26 564.04,364.31 566.74,364.36 569.44,364.42 572.14,364.49 574.84,364.56 577.54,364.64 580.24,364.73 582.94,364.82 585.64,364.92 588.34,365.02 591.05,365.13 593.75,365.24 596.45,365.36 599.15,365.48 601.85,365.61 604.55,365.75 607.25,365.89 609.95,366.04 612.65,366.19 615.35,366.35 618.05,366.51 620.75,366.68 623.45,366.85 626.15,367.03 628.85,367.22 631.55,367.41 634.25,367.60 636.95,367.80 639.65,368.00 642.35,368.21 645.06,368.42 647.76,368.64 650.46,368.87 653.16,369.09 655.86,369.33 658.56,369.56 661.26,369.80 663.96,370.05 666.66,370.30 669.36,370.55 672.06,370.81 674.76,371.07 677.46,371.34 680.16,371.61 682.86,371.88 685.56,372.16 688.26,372.44 690.96,372.73 693.66,373.01 696.36,373.31 699.07,373.60 701.77,373.90 704.47,374.20 707.17,374.51 709.87,374.81 712.57,375.12 715.27,375.44 717.97,375.75 720.67,376.07 723.37,376.39 726.07,376.71 728.77,377.04 731.47,377.37 734.17,377.70 736.87,378.03 739.57,378.36 742.27,378.70 744.97,379.04 747.67,379.38 750.37,379.72 753.08,380.06 755.78,380.40 758.48,380.74 761.18,381.09 763.88,381.44 766.58,381.78 769.28,382.13 771.98,382.48 774.68,382.83 777.38,383.18 780.08,383.53 782.78,383.88 785.48,384.23 788.18,384.58 790.88,384.93 793.58,385.28 796.28,385.62 798.98,385.97 801.68,386.32 804.38,386.67 807.09,387.01 809.79,387.36 812.49,387.70 815.19,388.05 817.89,388.39 820.59,388.73 823.29,389.07 825.99,389.41 828.69,389.74 831.39,390.08 834.09,390.41 836.79,390.74 839.49,391.07 842.19,391.40 844.89,391.72 847.59,392.04 850.29,392.36 852.99,392.68 855.69,392.99 858.39,393.30 861.10,393.61 863.80,393.91 866.50,394.22 869.20,394.51 871.90,394.81 874.60,395.10 877.30,395.39 880.00,395.67 882.70,395.95 885.40,396.23 888.10,396.50 890.80,396.77 893.50,397.04 896.20,397.30 898.90,397.56 901.60,397.81 904.30,398.06 907.00,398.30 909.70,398.54 912.40,398.78 915.11,399.01 917.81,399.23 920.51,399.45 923.21,399.67 925.91,399.88 928.61,400.08 931.31,400.28 934.01,400.48 936.71,400.67 939.41,400.85 942.11,401.03 944.81,401.21 947.51,401.38 950.21,401.54 952.91,401.70 955.61,401.85 958.31,401.99 961.01,402.13 963.71,402.27 966.41,402.40 969.12,402.52 971.82,402.64 974.52,402.75 977.22,402.86 979.92,402.96 982.62,403.05 985.32,403.14 988.02,403.22 990.72,403.29 993.42,403.36 996.12,403.43 998.82,403.48 1001.52,403.53 1004.22,403.58 1006.92,403.62 1009.62,403.65 1012.32,403.68 1015.02,403.70 1017.72,403.71 1020.42,403.72 1023.12,403.72 1025.83,403.72 1028.53,403.70 1031.23,403.69 1033.93,403.66 1036.63,403.64 1039.33,403.60 1042.03,403.56 1044.73,403.51 1047.43,403.46 1050.54,403.39" fill="none" stroke="#E0A82A" stroke-width="2.0" stroke-linejoin="round" stroke-linecap="round"/>
<polyline points="81.65,423.66 83.35,423.72 86.05,423.80 88.75,423.87 91.45,423.92 94.15,423.97 96.85,424.01 99.55,424.04 102.25,424.06 104.95,424.07 107.66,424.06 110.36,424.05 113.06,424.03 115.76,424.00 118.46,423.96 121.16,423.90 123.86,423.84 126.56,423.77 129.26,423.69 131.96,423.60 134.66,423.49 137.36,423.38 140.06,423.26 142.76,423.13 145.46,422.99 148.16,422.83 150.86,422.67 153.56,422.50 156.26,422.32 158.97,422.13 161.67,421.93 164.37,421.73 167.07,421.51 169.77,421.28 172.47,421.04 175.17,420.80 177.87,420.55 180.57,420.28 183.27,420.01 185.97,419.73 188.67,419.44 191.37,419.14 194.07,418.84 196.77,418.52 199.47,418.20 202.17,417.87 204.87,417.53 207.57,417.18 210.27,416.83 212.98,416.46 215.68,416.09 218.38,415.71 221.08,415.33 223.78,414.94 226.48,414.54 229.18,414.13 231.88,413.72 234.58,413.30 237.28,412.87 239.98,412.44 242.68,412.00 245.38,411.55 248.08,411.10 250.78,410.64 253.48,410.18 256.18,409.71 258.88,409.24 261.58,408.76 264.28,408.27 266.99,407.78 269.69,407.29 272.39,406.79 275.09,406.28 277.79,405.78 280.49,405.26 283.19,404.75 285.89,404.22 288.59,403.70 291.29,403.17 293.99,402.64 296.69,402.11 299.39,401.57 302.09,401.03 304.79,400.48 307.49,399.94 310.19,399.39 312.89,398.84 315.59,398.28 318.29,397.73 321.00,397.17 323.70,396.61 326.40,396.05 329.10,395.49 331.80,394.93 334.50,394.36 337.20,393.80 339.90,393.23 342.60,392.67 345.30,392.10 348.00,391.54 350.70,390.97 353.40,390.41 356.10,389.84 358.80,389.28 361.50,388.71 364.20,388.15 366.90,387.59 369.60,387.03 372.30,386.47 375.00,385.91 377.71,385.36 380.41,384.80 383.11,384.25 385.81,383.70 388.51,383.16 391.21,382.61 393.91,382.07 396.61,381.53 399.31,380.99 402.01,380.46 404.71,379.93 407.41,379.41 410.11,378.89 412.81,378.37 415.51,377.85 418.21,377.34 420.91,376.84 423.61,376.34 426.31,375.84 429.01,375.35 431.72,374.86 434.42,374.38 437.12,373.90 439.82,373.43 442.52,372.96 445.22,372.50 447.92,372.05 450.62,371.60 453.32,371.15 456.02,370.72 458.72,370.29 461.42,369.86 464.12,369.44 466.82,369.03 469.52,368.63 472.22,368.23 474.92,367.84 477.62,367.46 480.32,367.08 483.02,366.71 485.73,366.35 488.43,365.99 491.13,365.65 493.83,365.31 496.53,364.97 499.23,364.65 501.93,364.34 504.63,364.03 507.33,363.73 510.03,363.44 512.73,363.16 515.43,362.88 518.13,362.62 520.83,362.36 523.53,362.11 526.23,361.87 528.93,361.64 531.63,361.42 534.33,361.20 537.03,361.00 539.74,360.81 542.44,360.62 545.14,360.44 547.84,360.28 550.54,360.12 553.24,359.97 555.94,359.83 558.64,359.70 561.34,359.58 564.04,359.47 566.74,359.37 569.44,359.28 572.14,359.19 574.84,359.12 577.54,359.06 580.24,359.00 582.94,358.96 585.64,358.93 588.34,358.90 591.05,358.89 593.75,358.88 596.45,358.89 599.15,358.90 601.85,358.93 604.55,358.96 607.25,359.01 609.95,359.06 612.65,359.13 615.35,359.20 618.05,359.28 620.75,359.37 623.45,359.48 626.15,359.59 628.85,359.71 631.55,359.84 634.25,359.98 636.95,360.13 639.65,360.29 642.35,360.46 645.06,360.64 647.76,360.83 650.46,361.02 653.16,361.23 655.86,361.44 658.56,361.67 661.26,361.90 663.96,362.14 666.66,362.39 669.36,362.65 672.06,362.92 674.76,363.20 677.46,363.48 680.16,363.78 682.86,364.08 685.56,364.39 688.26,364.71 690.96,365.04 693.66,365.37 696.36,365.72 699.07,366.07 701.77,366.43 704.47,366.79 707.17,367.17 709.87,367.55 712.57,367.94 715.27,368.33 717.97,368.74 720.67,369.15 723.37,369.56 726.07,369.99 728.77,370.42 731.47,370.85 734.17,371.30 736.87,371.75 739.57,372.20 742.27,372.66 744.97,373.13 747.67,373.60 750.37,374.08 753.08,374.57 755.78,375.05 758.48,375.55 761.18,376.05 763.88,376.55 766.58,377.06 769.28,377.57 771.98,378.09 774.68,378.61 777.38,379.14 780.08,379.67 782.78,380.20 785.48,380.74 788.18,381.28 790.88,381.82 793.58,382.37 796.28,382.92 798.98,383.47 801.68,384.02 804.38,384.58 807.09,385.14 809.79,385.70 812.49,386.26 815.19,386.83 817.89,387.39 820.59,387.96 823.29,388.53 825.99,389.10 828.69,389.67 831.39,390.24 834.09,390.81 836.79,391.38 839.49,391.96 842.19,392.53 844.89,393.10 847.59,393.67 850.29,394.24 852.99,394.81 855.69,395.38 858.39,395.95 861.10,396.52 863.80,397.08 866.50,397.65 869.20,398.21 871.90,398.77 874.60,399.32 877.30,399.88 880.00,400.43 882.70,400.98 885.40,401.53 888.10,402.07 890.80,402.61 893.50,403.15 896.20,403.68 898.90,404.22 901.60,404.74 904.30,405.26 907.00,405.78 909.70,406.29 912.40,406.80 915.11,407.31 917.81,407.81 920.51,408.30 923.21,408.79 925.91,409.28 928.61,409.75 931.31,410.23 934.01,410.69 936.71,411.15 939.41,411.61 942.11,412.06 944.81,412.50 947.51,412.94 950.21,413.36 952.91,413.79 955.61,414.20 958.31,414.61 961.01,415.01 963.71,415.41 966.41,415.79 969.12,416.17 971.82,416.54 974.52,416.91 977.22,417.26 979.92,417.61 982.62,417.95 985.32,418.28 988.02,418.60 990.72,418.92 993.42,419.22 996.12,419.52 998.82,419.81 1001.52,420.09 1004.22,420.36 1006.92,420.62 1009.62,420.87 1012.32,421.12 1015.02,421.35 1017.72,421.58 1020.42,421.79 1023.12,422.00 1025.83,422.20 1028.53,422.38 1031.23,422.56 1033.93,422.73 1036.63,422.89 1039.33,423.04 1042.03,423.17 1044.73,423.30 1047.43,423.42 1050.54,423.55" fill="none" stroke="#75317F" stroke-width="2.0" stroke-linejoin="round" stroke-linecap="round"/>
<polyline points="81.65,392.63 83.35,392.57 86.05,392.47 88.75,392.37 91.45,392.27 94.15,392.17 96.85,392.07 99.55,391.97 102.25,391.87 104.95,391.77 107.66,391.68 110.36,391.58 113.06,391.49 115.76,391.39 118.46,391.30 121.16,391.20 123.86,391.11 126.56,391.02 129.26,390.93 131.96,390.84 134.66,390.75 137.36,390.66 140.06,390.57 142.76,390.48 145.46,390.40 148.16,390.31 150.86,390.23 153.56,390.15 156.26,390.06 158.97,389.98 161.67,389.90 164.37,389.83 167.07,389.75 169.77,389.67 172.47,389.60 175.17,389.52 177.87,389.45 180.57,389.38 183.27,389.31 185.97,389.24 188.67,389.17 191.37,389.11 194.07,389.04 196.77,388.98 199.47,388.92 202.17,388.85 204.87,388.80 207.57,388.74 210.27,388.68 212.98,388.63 215.68,388.57 218.38,388.52 221.08,388.47 223.78,388.42 226.48,388.37 229.18,388.32 231.88,388.28 234.58,388.24 237.28,388.19 239.98,388.15 242.68,388.11 245.38,388.08 248.08,388.04 250.78,388.01 253.48,387.97 256.18,387.94 258.88,387.91 261.58,387.89 264.28,387.86 266.99,387.84 269.69,387.81 272.39,387.79 275.09,387.77 277.79,387.75 280.49,387.74 283.19,387.72 285.89,387.71 288.59,387.70 291.29,387.69 293.99,387.68 296.69,387.67 299.39,387.67 302.09,387.66 304.79,387.66 307.49,387.66 310.19,387.66 312.89,387.66 315.59,387.67 318.29,387.68 321.00,387.68 323.70,387.69 326.40,387.70 329.10,387.72 331.80,387.73 334.50,387.75 337.20,387.76 339.90,387.78 342.60,387.80 345.30,387.83 348.00,387.85 350.70,387.88 353.40,387.90 356.10,387.93 358.80,387.96 361.50,387.99 364.20,388.03 366.90,388.06 369.60,388.10 372.30,388.14 375.00,388.18 377.71,388.22 380.41,388.26 383.11,388.30 385.81,388.35 388.51,388.39 391.21,388.44 393.91,388.49 396.61,388.54 399.31,388.59 402.01,388.65 404.71,388.70 407.41,388.76 410.11,388.82 412.81,388.88 415.51,388.94 418.21,389.00 420.91,389.06 423.61,389.13 426.31,389.19 429.01,389.26 431.72,389.33 434.42,389.40 437.12,389.47 439.82,389.54 442.52,389.61 445.22,389.68 447.92,389.76 450.62,389.84 453.32,389.91 456.02,389.99 458.72,390.07 461.42,390.15 464.12,390.23 466.82,390.31 469.52,390.40 472.22,390.48 474.92,390.57 477.62,390.65 480.32,390.74 483.02,390.83 485.73,390.91 488.43,391.00 491.13,391.09 493.83,391.18 496.53,391.28 499.23,391.37 501.93,391.46 504.63,391.55 507.33,391.65 510.03,391.74 512.73,391.84 515.43,391.93 518.13,392.03 520.83,392.13 523.53,392.22 526.23,392.32 528.93,392.42 531.63,392.52 534.33,392.62 537.03,392.72 539.74,392.82 542.44,392.92 545.14,393.02 547.84,393.12 550.54,393.22 553.24,393.32 555.94,393.42 558.64,393.52 561.34,393.62 564.04,393.72 566.74,393.82 569.44,393.92 572.14,394.02 574.84,394.12 577.54,394.22 580.24,394.33 582.94,394.43 585.64,394.53 588.34,394.62 591.05,394.72 593.75,394.82 596.45,394.92 599.15,395.02 601.85,395.12 604.55,395.22 607.25,395.31 609.95,395.41 612.65,395.51 615.35,395.60 618.05,395.70 620.75,395.79 623.45,395.89 626.15,395.98 628.85,396.07 631.55,396.16 634.25,396.25 636.95,396.34 639.65,396.43 642.35,396.52 645.06,396.61 647.76,396.69 650.46,396.78 653.16,396.86 655.86,396.95 658.56,397.03 661.26,397.11 663.96,397.19 666.66,397.27 669.36,397.35 672.06,397.43 674.76,397.50 677.46,397.58 680.16,397.65 682.86,397.72 685.56,397.79 688.26,397.86 690.96,397.93 693.66,398.00 696.36,398.06 699.07,398.13 701.77,398.19 704.47,398.25 707.17,398.31 709.87,398.36 712.57,398.42 715.27,398.48 717.97,398.53 720.67,398.58 723.37,398.63 726.07,398.68 728.77,398.72 731.47,398.77 734.17,398.81 736.87,398.85 739.57,398.89 742.27,398.93 744.97,398.97 747.67,399.00 750.37,399.03 753.08,399.06 755.78,399.09 758.48,399.12 761.18,399.15 763.88,399.17 766.58,399.19 769.28,399.21 771.98,399.23 774.68,399.24 777.38,399.26 780.08,399.27 782.78,399.28 785.48,399.29 788.18,399.30 790.88,399.30 793.58,399.30 796.28,399.30 798.98,399.30 801.68,399.30 804.38,399.30 807.09,399.29 809.79,399.28 812.49,399.27 815.19,399.26 817.89,399.24 820.59,399.22 823.29,399.21 825.99,399.19 828.69,399.16 831.39,399.14 834.09,399.11 836.79,399.09 839.49,399.06 842.19,399.03 844.89,398.99 847.59,398.96 850.29,398.92 852.99,398.88 855.69,398.84 858.39,398.80 861.10,398.76 863.80,398.71 866.50,398.66 869.20,398.61 871.90,398.56 874.60,398.51 877.30,398.46 880.00,398.40 882.70,398.34 885.40,398.28 888.10,398.22 890.80,398.16 893.50,398.10 896.20,398.03 898.90,397.97 901.60,397.90 904.30,397.83 907.00,397.76 909.70,397.69 912.40,397.61 915.11,397.54 917.81,397.46 920.51,397.39 923.21,397.31 925.91,397.23 928.61,397.15 931.31,397.06 934.01,396.98 936.71,396.90 939.41,396.81 942.11,396.72 944.81,396.64 947.51,396.55 950.21,396.46 952.91,396.37 955.61,396.28 958.31,396.18 961.01,396.09 963.71,396.00 966.41,395.90 969.12,395.81 971.82,395.71 974.52,395.61 977.22,395.52 979.92,395.42 982.62,395.32 985.32,395.22 988.02,395.12 990.72,395.02 993.42,394.92 996.12,394.82 998.82,394.72 1001.52,394.62 1004.22,394.52 1006.92,394.41 1009.62,394.31 1012.32,394.21 1015.02,394.11 1017.72,394.00 1020.42,393.90 1023.12,393.80 1025.83,393.70 1028.53,393.59 1031.23,393.49 1033.93,393.39 1036.63,393.28 1039.33,393.18 1042.03,393.08 1044.73,392.98 1047.43,392.87 1050.54,392.76" fill="none" stroke="#6EA23C" stroke-width="2.0" stroke-linejoin="round" stroke-linecap="round"/>
<polyline points="81.65,419.81 83.35,419.82 86.05,419.83 88.75,419.83 91.45,419.83 94.15,419.81 96.85,419.79 99.55,419.77 102.25,419.73 104.95,419.69 107.66,419.64 110.36,419.59 113.06,419.52 115.76,419.45 118.46,419.38 121.16,419.29 123.86,419.20 126.56,419.10 129.26,418.99 131.96,418.88 134.66,418.76 137.36,418.64 140.06,418.50 142.76,418.36 145.46,418.22 148.16,418.06 150.86,417.90 153.56,417.73 156.26,417.56 158.97,417.38 161.67,417.19 164.37,416.99 167.07,416.79 169.77,416.58 172.47,416.37 175.17,416.15 177.87,415.92 180.57,415.68 183.27,415.44 185.97,415.19 188.67,414.94 191.37,414.68 194.07,414.41 196.77,414.14 199.47,413.86 202.17,413.57 204.87,413.28 207.57,412.98 210.27,412.67 212.98,412.36 215.68,412.04 218.38,411.72 221.08,411.39 223.78,411.05 226.48,410.71 229.18,410.36 231.88,410.00 234.58,409.64 237.28,409.28 239.98,408.91 242.68,408.53 245.38,408.15 248.08,407.76 250.78,407.37 253.48,406.97 256.18,406.57 258.88,406.16 261.58,405.75 264.28,405.33 266.99,404.91 269.69,404.48 272.39,404.05 275.09,403.62 277.79,403.18 280.49,402.73 283.19,402.29 285.89,401.83 288.59,401.38 291.29,400.92 293.99,400.46 296.69,400.00 299.39,399.53 302.09,399.06 304.79,398.59 307.49,398.12 310.19,397.64 312.89,397.16 315.59,396.68 318.29,396.20 321.00,395.71 323.70,395.23 326.40,394.74 329.10,394.26 331.80,393.77 334.50,393.28 337.20,392.79 339.90,392.30 342.60,391.81 345.30,391.32 348.00,390.84 350.70,390.35 353.40,389.86 356.10,389.38 358.80,388.89 361.50,388.41 364.20,387.93 366.90,387.45 369.60,386.97 372.30,386.50 375.00,386.02 377.71,385.55 380.41,385.08 383.11,384.62 385.81,384.16 388.51,383.70 391.21,383.25 393.91,382.79 396.61,382.35 399.31,381.90 402.01,381.46 404.71,381.03 407.41,380.60 410.11,380.17 412.81,379.75 415.51,379.33 418.21,378.92 420.91,378.52 423.61,378.11 426.31,377.72 429.01,377.33 431.72,376.94 434.42,376.56 437.12,376.19 439.82,375.82 442.52,375.46 445.22,375.11 447.92,374.76 450.62,374.42 453.32,374.08 456.02,373.75 458.72,373.43 461.42,373.11 464.12,372.80 466.82,372.50 469.52,372.20 472.22,371.91 474.92,371.63 477.62,371.35 480.32,371.08 483.02,370.82 485.73,370.56 488.43,370.32 491.13,370.07 493.83,369.84 496.53,369.61 499.23,369.39 501.93,369.18 504.63,368.97 507.33,368.77 510.03,368.58 512.73,368.40 515.43,368.22 518.13,368.05 520.83,367.88 523.53,367.73 526.23,367.58 528.93,367.44 531.63,367.30 534.33,367.17 537.03,367.05 539.74,366.94 542.44,366.83 545.14,366.73 547.84,366.64 550.54,366.55 553.24,366.47 555.94,366.40 558.64,366.33 561.34,366.27 564.04,366.22 566.74,366.17 569.44,366.14 572.14,366.11 574.84,366.08 577.54,366.06 580.24,366.05 582.94,366.05 585.64,366.05 588.34,366.06 591.05,366.08 593.75,366.10 596.45,366.13 599.15,366.17 601.85,366.21 604.55,366.26 607.25,366.32 609.95,366.39 612.65,366.46 615.35,366.54 618.05,366.62 620.75,366.71 623.45,366.81 626.15,366.92 628.85,367.03 631.55,367.15 634.25,367.28 636.95,367.41 639.65,367.55 642.35,367.70 645.06,367.86 647.76,368.02 650.46,368.19 653.16,368.36 655.86,368.55 658.56,368.74 661.26,368.94 663.96,369.14 666.66,369.35 669.36,369.57 672.06,369.80 674.76,370.03 677.46,370.27 680.16,370.52 682.86,370.77 685.56,371.03 688.26,371.30 690.96,371.58 693.66,371.86 696.36,372.15 699.07,372.45 701.77,372.75 704.47,373.06 707.17,373.38 709.87,373.70 712.57,374.03 715.27,374.37 717.97,374.72 720.67,375.07 723.37,375.43 726.07,375.79 728.77,376.16 731.47,376.54 734.17,376.92 736.87,377.31 739.57,377.71 742.27,378.11 744.97,378.52 747.67,378.93 750.37,379.35 753.08,379.78 755.78,380.21 758.48,380.64 761.18,381.08 763.88,381.53 766.58,381.98 769.28,382.43 771.98,382.89 774.68,383.36 777.38,383.83 780.08,384.30 782.78,384.78 785.48,385.26 788.18,385.74 790.88,386.23 793.58,386.72 796.28,387.21 798.98,387.71 801.68,388.21 804.38,388.71 807.09,389.21 809.79,389.72 812.49,390.22 815.19,390.73 817.89,391.24 820.59,391.75 823.29,392.27 825.99,392.78 828.69,393.29 831.39,393.80 834.09,394.32 836.79,394.83 839.49,395.34 842.19,395.85 844.89,396.36 847.59,396.87 850.29,397.38 852.99,397.89 855.69,398.39 858.39,398.90 861.10,399.40 863.80,399.89 866.50,400.39 869.20,400.88 871.90,401.37 874.60,401.86 877.30,402.34 880.00,402.82 882.70,403.29 885.40,403.76 888.10,404.23 890.80,404.69 893.50,405.14 896.20,405.59 898.90,406.04 901.60,406.48 904.30,406.92 907.00,407.35 909.70,407.77 912.40,408.19 915.11,408.60 917.81,409.01 920.51,409.41 923.21,409.80 925.91,410.19 928.61,410.57 931.31,410.94 934.01,411.31 936.71,411.67 939.41,412.02 942.11,412.37 944.81,412.71 947.51,413.04 950.21,413.36 952.91,413.67 955.61,413.98 958.31,414.28 961.01,414.58 963.71,414.86 966.41,415.14 969.12,415.41 971.82,415.67 974.52,415.92 977.22,416.17 979.92,416.40 982.62,416.63 985.32,416.85 988.02,417.07 990.72,417.27 993.42,417.47 996.12,417.66 998.82,417.84 1001.52,418.01 1004.22,418.18 1006.92,418.33 1009.62,418.48 1012.32,418.63 1015.02,418.76 1017.72,418.88 1020.42,419.00 1023.12,419.11 1025.83,419.21 1028.53,419.31 1031.23,419.39 1033.93,419.47 1036.63,419.54 1039.33,419.60 1042.03,419.66 1044.73,419.71 1047.43,419.75 1050.54,419.78" fill="none" stroke="#50B6E4" stroke-width="2.0" stroke-linejoin="round" stroke-linecap="round"/>
<path d="M212.98 648.40V636.40M212.98 41.70V53.70M348.00 648.40V636.40M348.00 41.70V53.70M483.02 648.40V636.40M483.02 41.70V53.70M618.05 648.40V636.40M618.05 41.70V53.70M753.08 648.40V636.40M753.08 41.70V53.70M888.10 648.40V636.40M888.10 41.70V53.70M1023.12 648.40V636.40M1023.12 41.70V53.70M78.20 562.13H90.20M1158.40 562.13H1146.40M78.20 475.46H90.20M1158.40 475.46H1146.40M78.20 388.79H90.20M1158.40 388.79H1146.40M78.20 302.11H90.20M1158.40 302.11H1146.40M78.20 215.44H90.20M1158.40 215.44H1146.40M78.20 128.77H90.20M1158.40 128.77H1146.40" stroke="#404246" stroke-width="2" fill="none"/>
<rect x="78.20" y="41.70" width="1080.20" height="606.70" fill="none" stroke="#404246" stroke-width="2"/>
<g font-family='"Liberation Sans", sans-serif' font-size="17.3" fill="#444444"><text x="77.95" y="671.1" text-anchor="middle">0</text><text x="212.98" y="671.1" text-anchor="middle">50</text><text x="348.00" y="671.1" text-anchor="middle">100</text><text x="483.02" y="671.1" text-anchor="middle">150</text><text x="618.05" y="671.1" text-anchor="middle">200</text><text x="753.08" y="671.1" text-anchor="middle">250</text><text x="888.10" y="671.1" text-anchor="middle">300</text><text x="1023.12" y="671.1" text-anchor="middle">350</text><text x="1158.15" y="671.1" text-anchor="middle">400</text><text x="72.9" y="655.70" text-anchor="end">-3000</text><text x="72.9" y="569.03" text-anchor="end">-2000</text><text x="72.9" y="482.36" text-anchor="end">-1000</text><text x="72.9" y="395.69" text-anchor="end">0</text><text x="72.9" y="309.01" text-anchor="end">1000</text><text x="72.9" y="222.34" text-anchor="end">2000</text><text x="72.9" y="135.67" text-anchor="end">3000</text><text x="72.9" y="49.00" text-anchor="end">4000</text></g>
<text x="579.5" y="703.6" font-family='"Liberation Sans", sans-serif' font-size="21" fill="#444444">angle [</text>
<circle cx="647.35" cy="689.35" r="3.55" fill="none" stroke="#444444" stroke-width="1.3"/>
<text x="652.6" y="703.6" font-family='"Liberation Sans", sans-serif' font-size="21" fill="#444444">]</text>
<text transform="translate(23.0,346) rotate(-90) scale(1.075,1)" text-anchor="middle" font-family='"Liberation Sans", sans-serif' font-size="20" fill="#444444">coil currents</text>
<text transform="translate(618.3,24.6) scale(1.052,1)" x="0" y="0" text-anchor="middle" font-family='"Liberation Sans", sans-serif' font-size="22" font-weight="bold" fill="#222222">V3_CHILE Dependence of longitudinal coil currents on angle</text>
<rect x="1095.3" y="48.3" width="57.30" height="295.10" fill="#ffffff" stroke="#404246" stroke-width="2"/>
<line x1="1098.1" y1="60.05" x2="1118.8" y2="60.05" stroke="#2266A9" stroke-width="2.0" stroke-linecap="round"/>
<text x="1121.6" y="66.75" font-family='"Liberation Sans", sans-serif' font-size="17.3" fill="#444444">L1</text>
<line x1="1098.1" y1="82.66" x2="1118.8" y2="82.66" stroke="#CF5029" stroke-width="2.0" stroke-linecap="round"/>
<text x="1121.6" y="89.36" font-family='"Liberation Sans", sans-serif' font-size="17.3" fill="#444444">L2</text>
<line x1="1098.1" y1="105.27" x2="1118.8" y2="105.27" stroke="#E0A82A" stroke-width="2.0" stroke-linecap="round"/>
<text x="1121.6" y="111.97" font-family='"Liberation Sans", sans-serif' font-size="17.3" fill="#444444">L3</text>
<line x1="1098.1" y1="127.88" x2="1118.8" y2="127.88" stroke="#75317F" stroke-width="2.0" stroke-linecap="round"/>
<text x="1121.6" y="134.58" font-family='"Liberation Sans", sans-serif' font-size="17.3" fill="#444444">L4</text>
<line x1="1098.1" y1="150.49" x2="1118.8" y2="150.49" stroke="#6EA23C" stroke-width="2.0" stroke-linecap="round"/>
<text x="1121.6" y="157.19" font-family='"Liberation Sans", sans-serif' font-size="17.3" fill="#444444">L5</text>
<line x1="1098.1" y1="173.10" x2="1118.8" y2="173.10" stroke="#50B6E4" stroke-width="2.0" stroke-linecap="round"/>
<text x="1121.6" y="179.80" font-family='"Liberation Sans", sans-serif' font-size="17.3" fill="#444444">L6</text>
<line x1="1098.1" y1="195.71" x2="1118.8" y2="195.71" stroke="#921C31" stroke-width="2.0" stroke-linecap="round"/>
<text x="1121.6" y="202.41" font-family='"Liberation Sans", sans-serif' font-size="17.3" fill="#444444">L7</text>
<line x1="1098.1" y1="218.32" x2="1118.8" y2="218.32" stroke="#2266A9" stroke-width="2.0" stroke-linecap="round"/>
<text x="1121.6" y="225.02" font-family='"Liberation Sans", sans-serif' font-size="17.3" fill="#444444">L8</text>
<line x1="1098.1" y1="240.93" x2="1118.8" y2="240.93" stroke="#CF5029" stroke-width="2.0" stroke-linecap="round"/>
<text x="1121.6" y="247.63" font-family='"Liberation Sans", sans-serif' font-size="17.3" fill="#444444">L9</text>
<line x1="1098.1" y1="263.54" x2="1118.8" y2="263.54" stroke="#E0A82A" stroke-width="2.0" stroke-linecap="round"/>
<text x="1121.6" y="270.24" font-family='"Liberation Sans", sans-serif' font-size="17.3" fill="#444444">L10</text>
<line x1="1098.1" y1="286.15" x2="1118.8" y2="286.15" stroke="#75317F" stroke-width="2.0" stroke-linecap="round"/>
<text x="1121.6" y="292.85" font-family='"Liberation Sans", sans-serif' font-size="17.3" fill="#444444">L11</text>
<line x1="1098.1" y1="308.76" x2="1118.8" y2="308.76" stroke="#6EA23C" stroke-width="2.0" stroke-linecap="round"/>
<text x="1121.6" y="315.46" font-family='"Liberation Sans", sans-serif' font-size="17.3" fill="#444444">L12</text>
<line x1="1098.1" y1="331.37" x2="1118.8" y2="331.37" stroke="#50B6E4" stroke-width="2.0" stroke-linecap="round"/>
<text x="1121.6" y="338.07" font-family='"Liberation Sans", sans-serif' font-size="17.3" fill="#444444">L13</text>
</svg></body></html>
